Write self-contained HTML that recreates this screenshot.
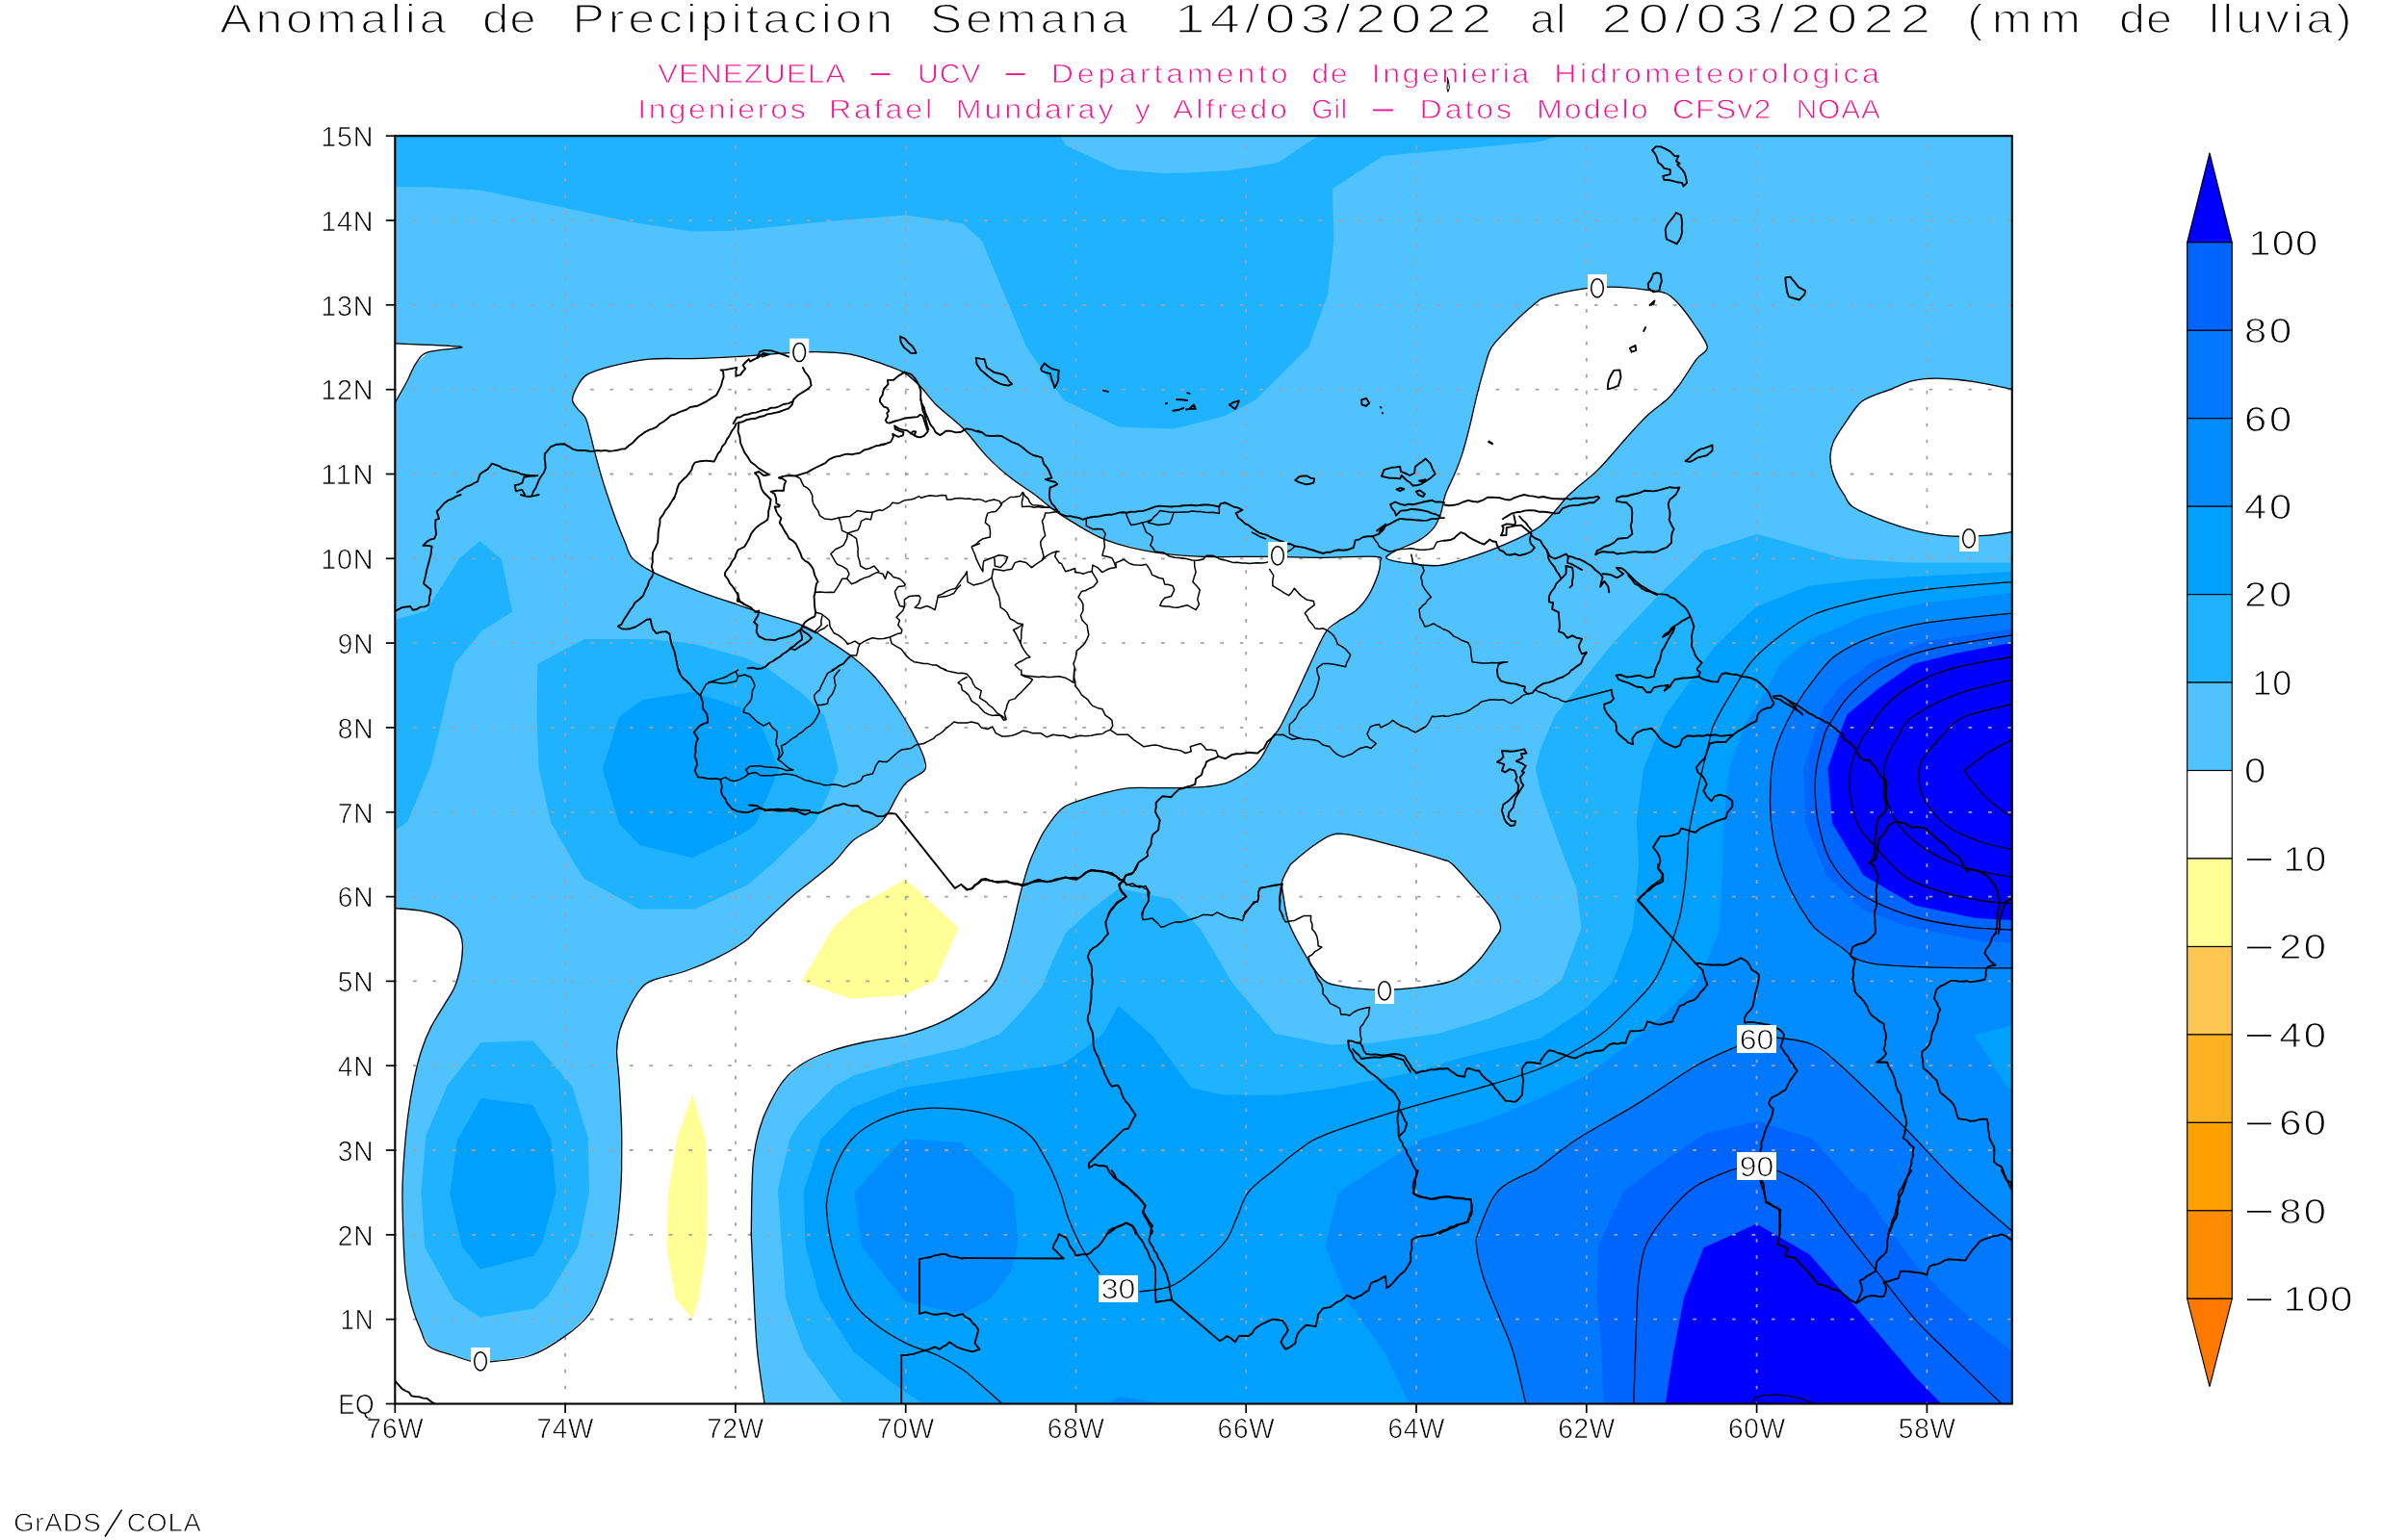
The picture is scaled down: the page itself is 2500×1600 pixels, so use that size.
<!DOCTYPE html>
<html><head><meta charset="utf-8"><title>Anomalia de Precipitacion</title>
<style>html,body{margin:0;padding:0;background:#fff}svg{display:block}text{font-family:"Liberation Sans",sans-serif;text-rendering:geometricPrecision}</style></head><body>
<svg width="2500" height="1600" viewBox="0 0 2500 1600">
<rect width="2500" height="1600" fill="#fff"/>
<defs><filter id="f" x="-5%" y="-20%" width="110%" height="140%"><feOffset dx="0" dy="0"/></filter><clipPath id="pc"><rect x="410.3" y="141.2" width="1679.5000000000002" height="1317.3"/></clipPath></defs>
<g clip-path="url(#pc)">
<rect x="410.3" y="141.2" width="1679.5000000000002" height="1317.3" fill="#50c3ff"/>
<path d="M410.3,356.9 L479.1,360.4 L444.9,365.7 L432.4,376.9 L422.4,396.8 L410.3,418.0Z" fill="#ffffff"/>
<path d="M410.3,943.6 L434.9,945.9 L457.4,951.6 L474.8,964.1 L480.3,980.3 L478.6,1002.7 L472.3,1025.2 L462.3,1042.6 L447.4,1067.6 L437.4,1092.5 L429.9,1122.4 L423.7,1159.8 L420.0,1197.3 L418.0,1234.7 L418.7,1278.3 L421.2,1323.2 L427.4,1355.7 L437.4,1383.1 L446.1,1399.3 L469.8,1408.0 L489.8,1414.3 L509.7,1414.8 L552.1,1408.0 L587.0,1388.1 L612.0,1365.6 L624.4,1340.7 L634.4,1310.8 L640.6,1278.3 L644.4,1240.9 L645.6,1216.0 L645.6,1209.7 L645.6,1172.3 L643.1,1122.4 L640.6,1092.5 L643.1,1072.6 L651.9,1050.1 L664.3,1028.9 L676.8,1018.9 L711.7,1009.0 L744.1,995.3 L774.1,977.8 L789.0,962.8 L823.9,930.4 L863.8,898.0 L886.3,873.1 L911.2,858.1 L922.4,844.4 L931.2,828.2 L941.1,813.3 L959.9,800.8 L960.6,790.8 L956.1,778.3 L946.1,758.4 L931.2,733.5 L908.7,703.5 L885.0,682.3 L861.3,666.1 L833.9,649.9 L789.0,636.2 L764.1,627.5 L724.2,613.8 L678.1,594.3 L656.9,580.1 L649.4,563.9 L639.4,538.9 L630.7,514.0 L624.4,494.1 L618.2,471.6 L613.2,451.7 L608.2,434.2 L599.5,424.3 L594.5,415.5 L599.5,401.8 L609.5,389.4 L634.4,380.6 L674.3,373.1 L719.2,372.6 L763.8,370.6 L823.9,366.4 L848.9,365.7 L883.8,368.2 L923.7,380.6 L940.6,388.1 L956.1,401.8 L973.6,421.8 L1000.0,444.7 L1024.9,474.1 L1049.9,496.6 L1074.8,514.0 L1093.5,529.0 L1112.2,541.4 L1149.6,561.4 L1199.5,573.9 L1249.4,578.3 L1319.2,578.3 L1374.1,579.3 L1428.9,578.3 L1433.4,583.8 L1431.4,596.3 L1421.4,618.7 L1409.0,633.7 L1389.0,646.2 L1376.6,657.4 L1359.1,693.6 L1344.1,726.0 L1329.2,755.9 L1321.7,765.9 L1309.2,788.3 L1296.8,800.8 L1274.3,813.3 L1249.4,817.7 L1212.0,818.7 L1174.6,818.7 L1149.6,823.2 L1117.2,833.2 L1102.2,840.7 L1084.8,863.1 L1074.8,883.1 L1068.6,898.0 L1059.9,927.9 L1049.9,970.3 L1039.9,1005.2 L1027.4,1027.7 L1000.0,1049.6 L973.6,1063.8 L938.7,1075.6 L898.8,1082.5 L861.3,1092.5 L833.9,1105.0 L814.0,1122.4 L799.0,1147.4 L789.0,1172.3 L782.8,1202.2 L781.0,1234.7 L780.3,1282.0 L780.3,1283.3 L782.8,1340.7 L786.5,1403.0 L794.0,1458.5 L410.3,1458.5Z" fill="#ffffff"/>
<path d="M1600.0,310.8 L1615.0,305.8 L1647.4,299.6 L1682.3,298.3 L1717.2,302.1 L1732.2,305.8 L1744.6,317.0 L1759.6,337.0 L1773.3,360.7 L1762.1,373.1 L1744.6,399.3 L1732.2,414.3 L1712.2,430.5 L1689.8,454.2 L1659.9,487.9 L1629.9,514.0 L1600.0,546.4 L1561.1,566.4 L1523.7,580.1 L1493.8,587.6 L1461.3,585.1 L1440.1,580.1 L1448.9,572.6 L1473.8,561.4 L1488.8,548.9 L1496.3,534.0 L1501.2,514.0 L1511.2,491.6 L1518.7,471.6 L1526.2,444.2 L1533.7,411.8 L1541.1,384.4 L1548.6,361.9 L1563.6,344.5 L1581.0,327.0Z" fill="#ffffff"/>
<path d="M2089.8,404.3 L2048.9,396.3 L2011.5,393.1 L1986.5,395.6 L1964.1,404.3 L1934.2,416.8 L1916.7,439.2 L1904.2,459.2 L1901.0,474.1 L1903.0,489.1 L1909.2,504.1 L1915.5,514.0 L1924.2,526.5 L1954.1,540.2 L1989.0,551.4 L2023.9,556.9 L2061.3,556.4 L2089.8,552.7Z" fill="#ffffff"/>
<path d="M1340.4,898.0 L1361.6,880.6 L1381.5,868.1 L1399.0,866.9 L1436.4,875.6 L1473.8,885.6 L1498.8,893.1 L1508.7,898.0 L1533.7,925.4 L1552.4,947.9 L1558.6,964.1 L1552.4,975.3 L1533.7,1000.2 L1508.7,1018.9 L1468.8,1026.4 L1423.9,1028.2 L1389.0,1023.9 L1374.1,1017.7 L1359.1,997.8 L1339.2,960.3 L1332.9,930.4 L1331.7,915.5Z" fill="#ffffff"/>
<path d="M940.6,913.5 L995.5,964.1 L971.1,1018.9 L938.7,1033.9 L883.8,1037.7 L832.7,1019.7 L865.1,964.1 L886.3,944.1Z" fill="#ffff96"/>
<path d="M719.2,1136.9 L732.9,1183.5 L734.9,1238.4 L733.7,1295.8 L725.4,1350.7 L719.2,1370.1 L701.7,1349.4 L692.3,1295.8 L694.3,1238.4 L703.0,1183.5Z" fill="#ffff96"/>
<path d="M410.3,141.2 L410.3,194.1 L444.9,194.3 L499.8,197.8 L587.0,216.0 L656.9,231.0 L719.2,240.5 L763.8,239.7 L848.9,231.0 L940.6,223.5 L1000.0,232.2 L1020.0,250.4 L1066.1,360.7 L1104.7,415.5 L1162.1,443.7 L1219.5,445.5 L1271.8,432.2 L1304.2,415.5 L1359.1,360.7 L1379.1,305.8 L1385.3,250.9 L1384.0,196.1 L1436.4,161.9 L1600.0,147.0 L1618.7,141.2 L1369.1,141.2 L1326.7,169.2 L1274.3,177.4 L1234.4,179.4 L1207.0,179.9 L1160.8,176.1 L1107.2,151.2 L1101.0,141.2Z" fill="#1eb2ff"/>
<path d="M410.3,643.7 L442.4,634.9 L477.3,580.1 L498.5,562.1 L520.9,581.3 L532.2,635.4 L499.8,656.1 L472.3,689.8 L459.9,743.4 L447.4,795.8 L423.7,853.2 L410.3,863.1Z" fill="#1eb2ff"/>
<path d="M558.4,689.8 L607.0,664.1 L671.8,664.1 L719.2,668.6 L774.1,683.6 L794.0,692.3 L833.9,721.0 L856.4,743.4 L863.8,770.9 L870.8,799.5 L858.9,828.2 L846.4,854.4 L801.5,898.0 L776.6,919.2 L721.7,944.6 L664.3,944.6 L607.0,913.0 L597.0,898.0 L572.1,854.4 L559.6,798.3 L557.6,743.4Z" fill="#1eb2ff"/>
<path d="M499.8,1083.0 L553.4,1081.3 L594.5,1128.7 L610.7,1182.3 L612.0,1238.4 L600.7,1294.6 L569.6,1345.7 L554.6,1359.4 L498.5,1368.6 L471.1,1349.4 L441.1,1295.8 L437.4,1238.4 L442.4,1179.8 L464.8,1127.4Z" fill="#1eb2ff"/>
<path d="M2089.8,584.6 L1979.7,584.6 L1913.1,580.0 L1846.6,560.7 L1824.4,555.1 L1769.6,572.6 L1729.7,611.3 L1674.8,668.6 L1615.0,743.4 L1600.0,778.3 L1594.8,798.3 L1600.0,822.0 L1610.0,850.7 L1627.4,898.0 L1637.4,922.9 L1642.4,964.1 L1622.4,1017.7 L1600.0,1034.7 L1548.6,1057.6 L1493.8,1073.8 L1423.9,1083.8 L1381.5,1085.5 L1324.2,1073.8 L1279.3,1020.2 L1246.9,965.3 L1217.0,934.2 L1162.1,922.9 L1134.7,944.1 L1107.2,969.1 L1093.5,997.8 L1082.3,1025.2 L1057.4,1055.1 L1038.7,1074.3 L1000.0,1088.8 L938.7,1102.5 L886.3,1117.5 L866.3,1128.7 L831.4,1164.8 L820.2,1183.5 L807.7,1237.2 L808.2,1240.9 L816.0,1349.4 L835.2,1403.0 L875.1,1458.5 L2089.8,1458.5Z" fill="#1eb2ff"/>
<path d="M625.7,799.5 L643.1,744.7 L666.8,727.2 L719.2,719.0 L771.6,735.9 L791.5,755.9 L809.0,799.5 L785.3,855.6 L774.1,864.4 L719.2,891.3 L664.3,878.1 L643.1,855.6Z" fill="#00a0ff"/>
<path d="M499.8,1141.1 L553.4,1148.1 L572.1,1183.5 L577.6,1238.4 L563.3,1290.8 L554.6,1304.5 L498.5,1318.7 L479.8,1294.6 L467.3,1240.9 L474.8,1184.8Z" fill="#00a0ff"/>
<path d="M2089.8,593.9 L1939.7,601.9 L1879.8,608.6 L1823.9,630.5 L1780.0,673.1 L1729.7,743.4 L1707.2,798.3 L1699.8,853.2 L1702.2,898.0 L1696.0,964.1 L1674.8,1020.2 L1647.4,1047.6 L1600.0,1078.8 L1523.7,1097.5 L1463.8,1115.0 L1381.5,1131.2 L1331.7,1137.4 L1269.3,1137.4 L1236.9,1129.9 L1197.0,1076.3 L1161.6,1045.1 L1145.9,1073.8 L1132.2,1085.0 L1104.7,1105.0 L1000.0,1120.7 L938.7,1129.9 L885.0,1151.1 L852.6,1183.5 L834.4,1238.4 L836.9,1294.6 L851.4,1349.4 L886.3,1404.3 L928.7,1437.9 L958.6,1458.5 L2089.8,1458.5Z" fill="#00a0ff"/>
<path d="M1000.0,1187.3 L938.7,1183.0 L887.5,1238.4 L895.0,1294.6 L939.9,1351.9 L1000.0,1365.6 L1029.9,1348.2 L1051.1,1318.2 L1057.4,1290.8 L1052.4,1238.4 L1000.0,1189.8Z" fill="#008cff"/>
<path d="M1152.1,1458.5 L1162.1,1450.4 L1197.0,1456.6 L1199.5,1458.5Z" fill="#008cff"/>
<path d="M2089.8,615.9 L1999.6,626.6 L1937.1,639.9 L1878.5,665.2 L1849.2,689.1 L1835.9,715.7 L1813.3,750.3 L1808.0,765.0 L1796.0,799.6 L1793.3,823.6 L1790.0,855.5 L1789.3,911.4 L1785.3,970.0 L1787.0,964.1 L1772.1,1000.2 L1759.6,1022.7 L1729.7,1052.6 L1694.8,1082.5 L1647.4,1117.5 L1600.0,1141.1 L1548.6,1162.3 L1473.8,1184.8 L1390.3,1238.4 L1376.6,1294.6 L1399.0,1350.7 L1437.7,1404.3 L1463.8,1458.5 L2089.8,1458.5Z" fill="#008cff"/>
<path d="M2050.2,1075.2 L2089.8,1065.2 L2089.8,1131.7 L2083.5,1128.4Z" fill="#00a0ff"/>
<path d="M2089.8,637.2 L1999.6,647.2 L1926.4,670.5 L1899.8,686.5 L1886.5,703.8 L1862.5,734.4 L1849.2,765.0 L1841.2,791.6 L1838.6,824.9 L1839.9,858.2 L1846.6,891.5 L1859.9,924.7 L1879.8,958.0 L1891.8,970.0 L1913.1,984.6 L1926.4,995.3 L1946.4,1001.3 L1979.7,1003.9 L2032.9,1005.7 L2089.8,1005.9Z" fill="#0078ff"/>
<path d="M1584.8,1458.5 L1571.1,1403.0 L1556.1,1365.6 L1541.1,1328.2 L1533.7,1295.8 L1536.2,1278.3 L1556.1,1237.2 L1593.5,1216.0 L1600.0,1211.7 L1639.9,1182.3 L1699.8,1147.4 L1762.1,1107.0 L1804.5,1087.0 L1845.6,1078.0 L1881.8,1085.0 L1911.7,1107.0 L1974.1,1167.3 L2023.9,1219.7 L2089.8,1279.5 L2089.8,1458.5Z" fill="#0078ff"/>
<path d="M2089.8,653.2 L1999.6,666.5 L1946.4,686.5 L1913.1,710.4 L1893.1,737.0 L1883.8,765.0 L1873.2,798.3 L1875.2,855.5 L1897.1,909.4 L1935.7,945.4 L1979.7,962.0 L2019.6,970.0 L2059.5,978.0 L2089.8,979.3Z" fill="#0064ff"/>
<path d="M1665.3,1458.5 L1663.6,1403.0 L1658.6,1348.2 L1659.9,1294.6 L1686.0,1238.4 L1714.7,1216.0 L1769.6,1178.5 L1824.4,1165.3 L1881.8,1182.3 L1931.7,1238.4 L1936.7,1238.4 L1974.1,1293.3 L1989.0,1313.3 L2023.9,1349.4 L2061.3,1381.8 L2089.8,1404.3 L2089.8,1458.5Z" fill="#0064ff"/>
<path d="M2089.8,667.8 L2032.9,678.5 L1987.7,689.8 L1950.4,715.7 L1918.4,742.4 L1909.8,765.0 L1898.5,798.3 L1903.1,855.5 L1935.7,909.4 L1989.0,940.7 L2052.9,954.0 L2089.8,956.0Z" fill="#0000ff"/>
<path d="M1729.7,1458.5 L1738.4,1403.0 L1749.1,1348.2 L1769.6,1296.3 L1824.4,1271.4 L1879.3,1303.3 L1931.7,1363.1 L1989.0,1430.5 L2016.5,1458.5Z" fill="#0000ff"/>
<g stroke="#a2a2a2" stroke-width="1.8" fill="none">
<path d="M408.5,229.0 H2089.8" stroke-dasharray="3.7 16.75"/>
<path d="M408.5,316.8 H2089.8" stroke-dasharray="3.7 16.75"/>
<path d="M408.5,404.7 H2089.8" stroke-dasharray="3.7 16.75"/>
<path d="M408.5,492.5 H2089.8" stroke-dasharray="3.7 16.75"/>
<path d="M408.5,580.3 H2089.8" stroke-dasharray="3.7 16.75"/>
<path d="M408.5,668.1 H2089.8" stroke-dasharray="3.7 16.75"/>
<path d="M408.5,755.9 H2089.8" stroke-dasharray="3.7 16.75"/>
<path d="M408.5,843.8 H2089.8" stroke-dasharray="3.7 16.75"/>
<path d="M408.5,931.6 H2089.8" stroke-dasharray="3.7 16.75"/>
<path d="M408.5,1019.4 H2089.8" stroke-dasharray="3.7 16.75"/>
<path d="M408.5,1107.2 H2089.8" stroke-dasharray="3.7 16.75"/>
<path d="M408.5,1195.0 H2089.8" stroke-dasharray="3.7 16.75"/>
<path d="M408.5,1282.9 H2089.8" stroke-dasharray="3.7 16.75"/>
<path d="M408.5,1370.7 H2089.8" stroke-dasharray="3.7 16.75"/>
<path d="M587.1,1460.3 V141.2" stroke-dasharray="3.6 13.35"/>
<path d="M763.9,1460.3 V141.2" stroke-dasharray="3.6 13.35"/>
<path d="M940.7,1460.3 V141.2" stroke-dasharray="3.6 13.35"/>
<path d="M1117.5,1460.3 V141.2" stroke-dasharray="3.6 13.35"/>
<path d="M1294.2,1460.3 V141.2" stroke-dasharray="3.6 13.35"/>
<path d="M1471.0,1460.3 V141.2" stroke-dasharray="3.6 13.35"/>
<path d="M1647.8,1460.3 V141.2" stroke-dasharray="3.6 13.35"/>
<path d="M1824.6,1460.3 V141.2" stroke-dasharray="3.6 13.35"/>
<path d="M2001.4,1460.3 V141.2" stroke-dasharray="3.6 13.35"/>
</g>
<g stroke="#000" stroke-width="1.3" fill="none" stroke-linejoin="round">
<path d="M410.5,356.9 C421.9,357.5 473.4,358.9 479.1,360.4 C484.8,361.9 452.7,362.9 444.9,365.7 C437.1,368.4 436.1,371.7 432.4,376.9 C428.6,382.1 426.0,389.9 422.4,396.8 C418.8,403.7 412.5,414.5 410.5,418.0"/>
<path d="M410.5,943.6 C414.6,944.0 427.1,944.6 434.9,945.9 C442.7,947.2 450.8,948.6 457.4,951.6 C464.0,954.6 471.0,959.3 474.8,964.1 C478.6,968.9 479.7,973.9 480.3,980.3 C480.9,986.7 479.9,995.2 478.6,1002.7 C477.3,1010.2 475.0,1018.6 472.3,1025.2 C469.6,1031.8 466.5,1035.5 462.3,1042.6 C458.1,1049.7 451.5,1059.3 447.4,1067.6 C443.2,1075.9 440.3,1083.4 437.4,1092.5 C434.5,1101.6 432.2,1111.2 429.9,1122.4 C427.6,1133.6 425.3,1147.3 423.7,1159.8 C422.1,1172.3 420.9,1184.8 420.0,1197.3 C419.1,1209.8 418.2,1221.2 418.0,1234.7 C417.8,1248.2 418.2,1263.5 418.7,1278.3 C419.2,1293.0 419.8,1310.3 421.2,1323.2 C422.6,1336.1 424.7,1345.7 427.4,1355.7 C430.1,1365.7 434.3,1375.8 437.4,1383.1 C440.5,1390.4 440.7,1395.1 446.1,1399.3 C451.5,1403.5 462.5,1405.5 469.8,1408.0 C477.1,1410.5 483.2,1413.2 489.8,1414.3 C496.4,1415.4 499.3,1415.8 509.7,1414.8 C520.1,1413.8 539.2,1412.5 552.1,1408.0 C565.0,1403.5 577.0,1395.2 587.0,1388.1 C597.0,1381.0 605.8,1373.5 612.0,1365.6 C618.2,1357.7 620.7,1349.8 624.4,1340.7 C628.1,1331.6 631.7,1321.2 634.4,1310.8 C637.1,1300.4 638.9,1289.9 640.6,1278.3 C642.3,1266.7 643.6,1251.3 644.4,1240.9 C645.2,1230.5 645.4,1221.2 645.6,1216.0 C645.8,1210.8 645.6,1217.0 645.6,1209.7 C645.6,1202.4 646.0,1186.8 645.6,1172.3 C645.2,1157.8 643.9,1135.7 643.1,1122.4 C642.3,1109.1 640.6,1100.8 640.6,1092.5 C640.6,1084.2 641.2,1079.7 643.1,1072.6 C645.0,1065.5 648.4,1057.4 651.9,1050.1 C655.4,1042.8 660.1,1034.1 664.3,1028.9 C668.4,1023.7 668.9,1022.2 676.8,1018.9 C684.7,1015.6 700.5,1012.9 711.7,1009.0 C722.9,1005.1 733.7,1000.5 744.1,995.3 C754.5,990.1 766.6,983.2 774.1,977.8 C781.6,972.4 780.7,970.7 789.0,962.8 C797.3,954.9 811.4,941.2 823.9,930.4 C836.4,919.6 853.4,907.5 863.8,898.0 C874.2,888.5 878.4,879.8 886.3,873.1 C894.2,866.5 905.2,862.9 911.2,858.1 C917.2,853.3 919.1,849.4 922.4,844.4 C925.7,839.4 928.1,833.4 931.2,828.2 C934.3,823.0 936.3,817.9 941.1,813.3 C945.9,808.7 956.6,804.5 959.9,800.8 C963.1,797.0 961.2,794.5 960.6,790.8 C960.0,787.0 958.5,783.7 956.1,778.3 C953.7,772.9 950.2,765.9 946.1,758.4 C942.0,750.9 937.4,742.6 931.2,733.5 C925.0,724.4 916.4,712.0 908.7,703.5 C901.0,695.0 892.9,688.5 885.0,682.3 C877.1,676.1 869.8,671.5 861.3,666.1 C852.8,660.7 845.9,654.9 833.9,649.9 C821.9,644.9 800.6,639.9 789.0,636.2 C777.4,632.5 774.9,631.2 764.1,627.5 C753.3,623.8 738.5,619.3 724.2,613.8 C709.9,608.3 689.3,599.9 678.1,594.3 C666.9,588.7 661.7,585.2 656.9,580.1 C652.1,575.0 652.3,570.8 649.4,563.9 C646.5,557.0 642.5,547.2 639.4,538.9 C636.3,530.6 633.2,521.5 630.7,514.0 C628.2,506.5 626.5,501.2 624.4,494.1 C622.3,487.0 620.1,478.7 618.2,471.6 C616.3,464.5 614.9,457.9 613.2,451.7 C611.5,445.5 610.5,438.8 608.2,434.2 C605.9,429.6 601.8,427.4 599.5,424.3 C597.2,421.2 594.5,419.2 594.5,415.5 C594.5,411.8 597.0,406.2 599.5,401.8 C602.0,397.4 603.7,392.9 609.5,389.4 C615.3,385.9 623.6,383.3 634.4,380.6 C645.2,377.9 660.2,374.4 674.3,373.1 C688.4,371.8 704.3,373.0 719.2,372.6 C734.1,372.2 746.3,371.6 763.8,370.6 C781.2,369.6 809.7,367.2 823.9,366.4 C838.1,365.6 838.9,365.4 848.9,365.7 C858.9,366.0 871.3,365.7 883.8,368.2 C896.3,370.7 914.2,377.3 923.7,380.6 C933.2,383.9 935.2,384.6 940.6,388.1 C946.0,391.6 950.6,396.2 956.1,401.8 C961.6,407.4 966.3,414.7 973.6,421.8 C980.9,428.9 991.5,436.0 1000.0,444.7 C1008.5,453.4 1016.6,465.5 1024.9,474.1 C1033.2,482.8 1041.6,490.0 1049.9,496.6 C1058.2,503.2 1067.5,508.6 1074.8,514.0 C1082.1,519.4 1087.3,524.4 1093.5,529.0 C1099.7,533.6 1102.9,536.0 1112.2,541.4 C1121.5,546.8 1135.0,556.0 1149.6,561.4 C1164.1,566.8 1182.9,571.1 1199.5,573.9 C1216.1,576.7 1229.5,577.6 1249.4,578.3 C1269.4,579.0 1298.4,578.1 1319.2,578.3 C1340.0,578.5 1355.8,579.3 1374.1,579.3 C1392.4,579.3 1419.0,577.5 1428.9,578.3 C1438.8,579.0 1433.0,580.8 1433.4,583.8 C1433.8,586.8 1433.4,590.5 1431.4,596.3 C1429.4,602.1 1425.1,612.5 1421.4,618.7 C1417.7,624.9 1414.4,629.1 1409.0,633.7 C1403.6,638.3 1394.4,642.2 1389.0,646.2 C1383.6,650.2 1381.6,649.5 1376.6,657.4 C1371.6,665.3 1364.5,682.2 1359.1,693.6 C1353.7,705.0 1349.1,715.6 1344.1,726.0 C1339.1,736.4 1332.9,749.2 1329.2,755.9 C1325.5,762.5 1325.0,760.5 1321.7,765.9 C1318.4,771.3 1313.4,782.5 1309.2,788.3 C1305.0,794.1 1302.6,796.6 1296.8,800.8 C1291.0,805.0 1282.2,810.5 1274.3,813.3 C1266.4,816.1 1259.8,816.8 1249.4,817.7 C1239.0,818.6 1224.5,818.5 1212.0,818.7 C1199.5,818.9 1185.0,818.0 1174.6,818.7 C1164.2,819.5 1159.2,820.8 1149.6,823.2 C1140.0,825.6 1125.1,830.3 1117.2,833.2 C1109.3,836.1 1107.6,835.7 1102.2,840.7 C1096.8,845.7 1089.4,856.0 1084.8,863.1 C1080.2,870.2 1077.5,877.3 1074.8,883.1 C1072.1,888.9 1071.1,890.5 1068.6,898.0 C1066.1,905.5 1063.0,915.9 1059.9,927.9 C1056.8,939.9 1053.2,957.4 1049.9,970.3 C1046.6,983.2 1043.7,995.6 1039.9,1005.2 C1036.2,1014.8 1034.1,1020.3 1027.4,1027.7 C1020.8,1035.1 1009.0,1043.6 1000.0,1049.6 C991.0,1055.6 983.8,1059.5 973.6,1063.8 C963.4,1068.1 951.2,1072.5 938.7,1075.6 C926.2,1078.7 911.7,1079.7 898.8,1082.5 C885.9,1085.3 872.1,1088.8 861.3,1092.5 C850.5,1096.2 841.8,1100.0 833.9,1105.0 C826.0,1110.0 819.8,1115.3 814.0,1122.4 C808.2,1129.5 803.2,1139.1 799.0,1147.4 C794.8,1155.7 791.7,1163.2 789.0,1172.3 C786.3,1181.4 784.1,1191.8 782.8,1202.2 C781.5,1212.6 781.4,1221.4 781.0,1234.7 C780.6,1248.0 780.4,1273.9 780.3,1282.0 C780.2,1290.1 779.9,1273.5 780.3,1283.3 C780.7,1293.1 781.8,1320.8 782.8,1340.7 C783.8,1360.7 784.6,1383.4 786.5,1403.0 C788.4,1422.6 792.8,1449.2 794.0,1458.4"/>
<path d="M1600.0,310.8 C1602.5,310.0 1607.1,307.7 1615.0,305.8 C1622.9,303.9 1636.2,300.9 1647.4,299.6 C1658.6,298.4 1670.7,297.9 1682.3,298.3 C1693.9,298.7 1708.9,300.9 1717.2,302.1 C1725.5,303.4 1727.6,303.3 1732.2,305.8 C1736.8,308.3 1740.0,311.8 1744.6,317.0 C1749.2,322.2 1754.8,329.7 1759.6,337.0 C1764.4,344.3 1772.9,354.7 1773.3,360.7 C1773.7,366.7 1766.9,366.7 1762.1,373.1 C1757.3,379.5 1749.6,392.4 1744.6,399.3 C1739.6,406.2 1737.6,409.1 1732.2,414.3 C1726.8,419.5 1719.3,423.9 1712.2,430.5 C1705.1,437.1 1698.5,444.6 1689.8,454.2 C1681.1,463.8 1669.9,477.9 1659.9,487.9 C1649.9,497.9 1639.9,504.2 1629.9,514.0 C1619.9,523.8 1611.5,537.7 1600.0,546.4 C1588.5,555.1 1573.8,560.8 1561.1,566.4 C1548.4,572.0 1534.9,576.6 1523.7,580.1 C1512.5,583.6 1504.2,586.8 1493.8,587.6 C1483.4,588.4 1470.2,586.4 1461.3,585.1 C1452.3,583.9 1442.2,582.2 1440.1,580.1 C1438.0,578.0 1443.3,575.7 1448.9,572.6 C1454.5,569.5 1467.2,565.4 1473.8,561.4 C1480.4,557.4 1485.0,553.5 1488.8,548.9 C1492.5,544.3 1494.2,539.8 1496.3,534.0 C1498.4,528.2 1498.7,521.1 1501.2,514.0 C1503.7,506.9 1508.3,498.7 1511.2,491.6 C1514.1,484.5 1516.2,479.5 1518.7,471.6 C1521.2,463.7 1523.7,454.2 1526.2,444.2 C1528.7,434.2 1531.2,421.8 1533.7,411.8 C1536.2,401.8 1538.6,392.7 1541.1,384.4 C1543.6,376.1 1544.8,368.5 1548.6,361.9 C1552.3,355.2 1558.2,350.3 1563.6,344.5 C1569.0,338.7 1574.9,332.6 1581.0,327.0 C1587.1,321.4 1596.8,313.5 1600.0,310.8"/>
<path d="M2090.0,404.3 C2083.2,403.0 2062.0,398.2 2048.9,396.3 C2035.8,394.4 2021.9,393.2 2011.5,393.1 C2001.1,393.0 1994.4,393.7 1986.5,395.6 C1978.6,397.5 1972.8,400.8 1964.1,404.3 C1955.4,407.8 1942.1,411.0 1934.2,416.8 C1926.3,422.6 1921.7,432.1 1916.7,439.2 C1911.7,446.3 1906.8,453.4 1904.2,459.2 C1901.6,465.0 1901.2,469.1 1901.0,474.1 C1900.8,479.1 1901.6,484.1 1903.0,489.1 C1904.4,494.1 1907.1,500.0 1909.2,504.1 C1911.3,508.2 1913.0,510.3 1915.5,514.0 C1918.0,517.7 1917.8,522.1 1924.2,526.5 C1930.6,530.9 1943.3,536.1 1954.1,540.2 C1964.9,544.4 1977.4,548.6 1989.0,551.4 C2000.6,554.2 2011.9,556.1 2023.9,556.9 C2036.0,557.7 2050.3,557.1 2061.3,556.4 C2072.3,555.7 2085.2,553.3 2090.0,552.7"/>
<path d="M1340.4,898.0 C1343.9,895.1 1354.8,885.6 1361.6,880.6 C1368.4,875.6 1375.3,870.4 1381.5,868.1 C1387.7,865.8 1389.8,865.6 1399.0,866.9 C1408.2,868.1 1423.9,872.5 1436.4,875.6 C1448.9,878.7 1463.4,882.7 1473.8,885.6 C1484.2,888.5 1493.0,891.0 1498.8,893.1 C1504.6,895.2 1502.9,892.6 1508.7,898.0 C1514.5,903.4 1526.4,917.1 1533.7,925.4 C1541.0,933.7 1548.2,941.4 1552.4,947.9 C1556.6,954.4 1558.6,959.5 1558.6,964.1 C1558.6,968.7 1556.6,969.3 1552.4,975.3 C1548.2,981.3 1541.0,992.9 1533.7,1000.2 C1526.4,1007.5 1519.5,1014.5 1508.7,1018.9 C1497.9,1023.3 1482.9,1024.9 1468.8,1026.4 C1454.7,1028.0 1437.2,1028.6 1423.9,1028.2 C1410.6,1027.8 1397.3,1025.7 1389.0,1023.9 C1380.7,1022.1 1379.1,1022.1 1374.1,1017.7 C1369.1,1013.4 1364.9,1007.4 1359.1,997.8 C1353.3,988.2 1343.6,971.5 1339.2,960.3 C1334.8,949.1 1334.2,937.9 1332.9,930.4 C1331.7,922.9 1330.5,920.9 1331.7,915.5 C1333.0,910.1 1339.0,900.9 1340.4,898.0"/>
<path d="M2089.5,604.6 C2074.5,605.9 2024.6,609.6 1999.6,612.6 C1974.6,615.6 1959.0,618.3 1939.7,622.6 C1920.4,626.9 1899.3,631.9 1883.8,638.5 C1868.3,645.1 1857.2,654.5 1846.6,662.5 C1835.9,670.5 1827.7,677.4 1819.9,686.5 C1812.1,695.6 1806.7,706.0 1800.0,717.1 C1793.3,728.2 1784.2,743.6 1780.0,753.0 C1775.8,762.4 1777.6,761.3 1774.6,773.4 C1771.6,785.5 1765.4,810.8 1762.1,825.7 C1758.8,840.7 1756.3,851.1 1754.6,863.1 C1752.9,875.1 1752.9,888.0 1752.1,898.0 C1751.3,908.0 1750.8,913.8 1749.6,922.9 C1748.3,932.0 1747.1,942.9 1744.6,952.9 C1742.1,962.9 1739.3,971.6 1734.7,982.8 C1730.1,994.0 1725.1,1008.6 1717.2,1020.2 C1709.3,1031.8 1696.5,1043.4 1687.3,1052.6 C1678.1,1061.8 1671.9,1068.0 1662.3,1075.1 C1652.7,1082.2 1640.3,1089.2 1629.9,1095.0 C1619.5,1100.8 1613.5,1104.7 1600.0,1110.0 C1586.5,1115.3 1573.8,1119.4 1548.6,1126.9 C1523.4,1134.4 1478.0,1146.1 1448.9,1154.9 C1419.8,1163.7 1390.7,1173.2 1374.1,1179.8 C1357.5,1186.4 1357.4,1189.0 1349.1,1194.8 C1340.8,1200.6 1332.9,1207.4 1324.2,1214.7 C1315.5,1222.0 1303.5,1229.9 1296.8,1238.4 C1290.1,1246.9 1288.5,1257.2 1284.3,1265.9 C1280.1,1274.6 1279.3,1281.7 1271.8,1290.8 C1264.3,1299.9 1249.0,1313.0 1239.4,1320.7 C1229.9,1328.4 1223.8,1333.4 1214.5,1336.9 C1205.2,1340.4 1188.5,1341.1 1183.3,1341.9"/>
<path d="M1142.1,1323.2 C1139.2,1319.0 1130.1,1307.8 1124.7,1298.3 C1119.3,1288.8 1113.5,1275.5 1109.7,1265.9 C1106.0,1256.3 1105.1,1249.2 1102.2,1240.9 C1099.3,1232.6 1095.2,1222.5 1092.3,1216.0 C1089.4,1209.5 1088.1,1207.8 1084.8,1202.2 C1081.5,1196.6 1077.7,1188.1 1072.3,1182.3 C1066.9,1176.5 1060.3,1171.4 1052.4,1167.3 C1044.5,1163.2 1033.6,1159.8 1024.9,1157.4 C1016.2,1155.0 1009.4,1154.0 1000.0,1152.9 C990.6,1151.9 978.8,1150.8 968.6,1151.1 C958.4,1151.4 949.1,1152.2 938.7,1154.9 C928.3,1157.6 915.4,1162.3 906.2,1167.3 C897.1,1172.3 890.0,1177.7 883.8,1184.8 C877.6,1191.9 872.8,1200.6 868.8,1209.7 C864.8,1218.8 861.8,1230.9 860.1,1239.6 C858.5,1248.3 857.9,1251.5 858.9,1262.1 C859.9,1272.7 862.1,1288.8 866.3,1303.3 C870.4,1317.8 876.7,1337.4 883.8,1349.4 C890.9,1361.5 899.2,1367.9 908.7,1375.6 C918.2,1383.3 930.3,1390.2 941.1,1395.6 C951.9,1401.0 963.8,1403.4 973.6,1408.0 C983.4,1412.6 993.1,1418.4 1000.0,1423.0 C1006.9,1427.6 1008.1,1429.6 1015.0,1435.5 C1021.9,1441.4 1036.8,1454.6 1041.1,1458.4"/>
<path d="M2089.5,637.2 C2074.5,638.9 2023.4,643.2 1999.6,647.2 C1975.8,651.2 1961.9,655.6 1946.4,661.2 C1930.9,666.9 1916.9,673.6 1906.5,681.1 C1896.1,688.6 1890.7,697.8 1883.8,706.4 C1876.9,715.0 1871.0,723.2 1865.2,733.0 C1859.4,742.8 1853.2,755.2 1849.2,765.0 C1845.2,774.8 1843.0,781.6 1841.2,791.6 C1839.4,801.6 1838.8,813.8 1838.6,824.9 C1838.4,836.0 1838.6,847.1 1839.9,858.2 C1841.2,869.3 1843.3,880.4 1846.6,891.5 C1849.9,902.6 1854.4,913.6 1859.9,924.7 C1865.4,935.8 1874.5,950.5 1879.8,958.0 C1885.1,965.5 1886.2,965.6 1891.8,970.0 C1897.3,974.4 1907.3,980.4 1913.1,984.6 C1918.9,988.8 1920.9,992.5 1926.4,995.3 C1932.0,998.1 1937.5,999.9 1946.4,1001.3 C1955.3,1002.7 1965.3,1003.2 1979.7,1003.9 C1994.1,1004.6 2014.6,1005.4 2032.9,1005.7 C2051.2,1006.0 2080.1,1005.9 2089.5,1005.9"/>
<path d="M1584.8,1458.4 C1582.5,1449.2 1575.9,1418.5 1571.1,1403.0 C1566.3,1387.5 1561.1,1378.1 1556.1,1365.6 C1551.1,1353.1 1544.8,1339.8 1541.1,1328.2 C1537.4,1316.6 1534.5,1304.1 1533.7,1295.8 C1532.9,1287.5 1532.5,1288.1 1536.2,1278.3 C1539.9,1268.5 1546.5,1247.6 1556.1,1237.2 C1565.6,1226.8 1586.2,1220.2 1593.5,1216.0 C1600.8,1211.8 1592.3,1217.3 1600.0,1211.7 C1607.7,1206.1 1623.3,1193.0 1639.9,1182.3 C1656.5,1171.6 1679.4,1160.0 1699.8,1147.4 C1720.2,1134.9 1744.6,1117.1 1762.1,1107.0 C1779.5,1096.9 1797.4,1090.3 1804.5,1087.0"/>
<path d="M1845.6,1078.0 C1851.6,1079.2 1870.8,1080.2 1881.8,1085.0 C1892.8,1089.8 1896.3,1093.3 1911.7,1107.0 C1927.1,1120.7 1955.4,1148.5 1974.1,1167.3 C1992.8,1186.1 2011.4,1207.0 2023.9,1219.7 C2036.4,1232.4 2038.1,1233.6 2048.9,1243.4 C2059.7,1253.2 2082.2,1272.5 2088.8,1278.3"/>
<path d="M2089.5,659.8 C2074.5,662.5 2022.3,669.8 1999.6,675.8 C1976.8,681.8 1966.3,687.8 1953.0,695.8 C1939.7,703.8 1928.7,714.2 1919.8,723.7 C1910.9,733.2 1904.0,746.1 1899.8,753.0 C1895.6,759.9 1896.7,757.5 1894.5,765.0 C1892.3,772.5 1888.0,788.3 1886.5,798.3 C1885.0,808.3 1884.8,814.9 1885.2,824.9 C1885.7,834.9 1886.8,847.1 1889.2,858.2 C1891.6,869.3 1894.7,881.5 1899.8,891.5 C1904.9,901.5 1912.0,910.6 1919.8,918.1 C1927.6,925.6 1934.2,930.7 1946.4,936.7 C1958.6,942.7 1976.4,949.6 1993.0,954.0 C2009.6,958.4 2030.1,961.3 2046.2,963.3 C2062.3,965.3 2082.3,965.5 2089.5,966.0"/>
<path d="M1696.8,1458.4 C1697.3,1443.8 1698.9,1392.3 1699.8,1370.6 C1700.7,1348.9 1700.5,1341.1 1702.2,1328.2 C1703.9,1315.3 1705.1,1304.1 1709.7,1293.3 C1714.3,1282.5 1721.4,1273.4 1729.7,1263.4 C1738.0,1253.4 1748.8,1241.2 1759.6,1233.5 C1770.4,1225.8 1787.0,1220.4 1794.5,1217.2 C1802.0,1214.0 1802.8,1214.7 1804.5,1214.2"/>
<path d="M1845.6,1216.0 C1851.6,1219.3 1870.8,1226.3 1881.8,1235.9 C1892.8,1245.5 1900.5,1259.3 1911.7,1273.4 C1922.9,1287.5 1936.2,1304.5 1949.1,1320.7 C1962.0,1336.9 1976.5,1356.5 1989.0,1370.6 C2001.5,1384.7 2008.9,1390.9 2023.9,1405.5 C2038.9,1420.1 2069.7,1449.6 2078.8,1458.4"/>
<path d="M2089.5,682.5 C2080.1,684.3 2049.0,688.9 2032.9,693.1 C2016.8,697.3 2005.2,701.4 1993.0,707.8 C1980.8,714.2 1968.6,723.1 1959.7,731.7 C1950.8,740.4 1943.7,754.2 1939.7,759.7 C1935.7,765.2 1938.4,759.7 1935.7,765.0 C1933.0,770.3 1926.2,782.7 1923.8,791.6 C1921.4,800.5 1920.2,807.6 1921.1,818.2 C1922.0,828.9 1924.9,845.5 1929.1,855.5 C1933.3,865.5 1938.0,868.8 1946.4,878.1 C1954.8,887.4 1967.5,903.2 1979.7,911.4 C1991.9,919.6 2006.3,923.3 2019.6,927.4 C2032.9,931.5 2047.8,934.1 2059.5,936.0 C2071.2,937.9 2084.5,938.2 2089.5,938.7"/>
<path d="M1820.7,1458.4 C1821.3,1457.3 1820.5,1453.2 1824.4,1451.7 C1828.4,1450.2 1836.9,1449.0 1844.4,1449.2 C1851.9,1449.4 1862.9,1451.4 1869.3,1452.9 C1875.7,1454.4 1880.7,1457.5 1883.0,1458.4"/>
<path d="M2089.5,706.4 C2080.1,708.9 2050.1,714.7 2032.9,721.1 C2015.7,727.5 1996.5,737.7 1986.3,745.0 C1976.1,752.3 1976.3,757.2 1971.7,765.0 C1967.1,772.8 1960.6,781.6 1958.4,791.6 C1956.2,801.6 1956.0,813.8 1958.4,824.9 C1960.8,836.0 1966.1,848.7 1973.0,858.2 C1979.9,867.7 1988.5,875.0 1999.6,882.1 C2010.7,889.2 2024.6,895.9 2039.6,900.8 C2054.6,905.7 2081.2,909.6 2089.5,911.4"/>
<path d="M2089.5,731.7 C2081.2,733.9 2051.7,739.5 2039.6,745.0 C2027.5,750.5 2024.2,757.2 2016.9,765.0 C2009.6,772.8 1999.4,782.7 1995.6,791.6 C1991.8,800.5 1992.5,809.8 1994.3,818.2 C1996.1,826.6 2001.0,835.1 2006.3,842.2 C2011.6,849.3 2017.4,855.2 2026.3,860.8 C2035.2,866.3 2049.0,872.0 2059.5,875.5 C2070.0,879.0 2084.5,881.0 2089.5,882.1"/>
<path d="M2089.5,768.3 C2085.2,770.8 2071.7,777.6 2063.5,783.0 C2055.3,788.4 2044.1,797.8 2040.2,800.7"/>
<path d="M2040.2,800.7 C2043.2,804.5 2052.8,817.6 2058.2,823.6 C2063.6,829.6 2067.6,832.7 2072.8,836.9 C2078.0,841.1 2086.7,846.9 2089.5,848.9"/>
</g>
<g stroke="#000" stroke-width="1.9" fill="none" stroke-linejoin="round" stroke-linecap="round">
<path d="M474.8,511.5 L479.9,508.5 L484.8,505.3 L488.8,504.2 L492.3,502.0 L496.0,500.3 L498.5,492.8 L502.1,490.1 L506.0,487.9 L508.6,484.8 L511.0,481.6 L514.8,482.9 L518.6,484.3 L522.0,486.7 L525.9,487.7 L529.7,489.1 L533.9,489.9 L538.1,491.0 L542.1,492.8 L546.1,493.5 L550.2,493.9 L554.3,494.5 L558.4,494.1 L554.0,494.3 L549.6,494.8 L544.1,495.8 L542.6,501.6 L538.8,503.4 L534.7,504.1 L535.9,510.3 L542.1,508.6 L545.1,514.0"/>
<path d="M552.6,514.0 L554.2,510.2 L556.6,506.8 L558.1,502.9 L559.6,499.1 L562.0,495.0 L564.8,491.0 L566.6,486.6 L566.4,481.6 L565.7,476.6 L565.8,471.6 L569.0,467.9 L572.1,464.2 L578.3,461.7 L585.8,461.2 L592.0,464.7 L595.5,466.9 L599.5,467.9 L603.7,468.0 L607.9,468.0 L612.0,468.7 L616.2,468.9 L620.3,468.0 L624.4,468.5 L628.6,467.9 L632.8,468.8 L636.9,468.4 L641.1,467.8 L645.2,466.6 L649.4,466.2 L653.0,463.0 L656.9,460.4 L660.4,456.5 L664.3,452.9 L669.1,449.4 L674.3,446.7 L678.1,445.3 L681.8,443.7 L685.2,440.4 L689.3,438.0 L693.1,435.0 L696.8,431.7 L701.1,430.5 L705.0,428.4 L709.2,426.8 L713.2,425.5 L716.7,423.0 L724.2,421.8 L729.3,419.4 L734.2,416.8 L739.1,413.6 L744.1,410.5 L746.6,405.6 L749.1,400.6 L750.1,396.1 L751.6,391.8 L751.1,385.6 L748.6,384.4 L753.9,384.1 L759.1,383.1 L765.3,381.9 L764.3,386.2 L764.6,390.6 L769.1,389.4 L771.4,386.1 L774.1,383.1 L771.6,379.4 L774.6,376.2 L777.8,373.1 L779.1,375.6 L782.7,373.6 L786.5,371.9 L789.0,365.7 L794.0,363.9 L801.5,364.4 L809.0,366.9 L814.0,368.6 L819.0,370.6"/>
<path d="M786.5,371.9 L789.9,369.7 L792.8,366.9 L799.0,368.2 L791.5,370.6"/>
<path d="M833.9,381.9 L836.0,386.3 L839.1,390.0 L841.4,394.3 L842.6,400.6 L838.9,404.3 L833.9,407.4 L828.9,410.5 L823.9,415.5 L822.7,420.5 L819.0,424.3 L814.0,426.1 L809.0,428.0 L805.0,428.9 L801.0,429.8 L796.9,430.4 L793.1,432.3 L789.0,433.0 L784.7,434.8 L780.0,435.2 L775.4,436.2 L771.2,438.3 L766.6,439.2"/>
<path d="M823.9,416.8 L819.1,419.1 L813.8,420.0 L809.0,422.3 L805.1,423.6 L800.8,423.7 L797.1,425.7 L792.9,426.0 L789.0,427.3 L785.1,428.6 L781.0,429.1 L777.1,430.5 L773.0,431.0 L769.4,433.3 L765.3,433.7 L761.6,440.0"/>
<path d="M934.9,349.5 L939.9,351.9 L943.3,356.0 L947.4,359.4 L949.8,363.0 L951.6,366.9 L946.1,366.9 L942.4,363.8 L938.7,360.7 L935.7,355.7 L934.9,349.5"/>
<path d="M939.5,386.6 L946.4,388.9 L950.4,393.2 L954.4,399.9 L956.4,406.5 L956.2,410.9 L956.4,415.2 L957.5,419.4 L959.7,423.2 L960.9,428.3 L963.1,433.1 L964.7,437.1 L966.4,441.1 L969.5,444.8 L971.7,449.1 L976.4,452.1 L979.0,450.4 L982.3,447.8 L987.7,447.8 L993.0,449.4 L998.3,448.8 L1003.6,445.4 L1009.6,446.4 L1014.7,448.3 L1020.0,449.1"/>
<path d="M939.5,386.6 L933.1,390.6 L927.8,394.9 L921.8,394.9 L922.5,399.2 L917.8,404.5 L916.5,410.5 L914.2,413.9 L913.9,417.2 L917.8,422.5 L921.8,423.8 L923.2,427.2 L921.2,429.1 L922.2,432.5 L919.8,436.5 L921.2,439.1 L923.8,439.5 L929.8,437.5 L934.9,436.2 L939.8,434.5 L946.4,433.8 L953.1,433.1 L955.7,430.8 L958.4,432.1 L960.4,438.5 L962.4,444.4 L963.7,448.4 L959.7,452.8 L955.7,454.4 L952.4,453.8 L946.4,450.4 L941.8,447.1 L938.5,446.8 L933.1,445.1 L929.1,442.4 L929.8,445.8 L934.5,447.8 L938.5,449.1 L937.8,452.4 L933.1,453.8 L929.8,452.4 L927.2,450.8 L927.8,453.8 L925.2,459.1 L919.8,461.1 L914.5,462.0"/>
<path d="M945.8,450.4 L948.4,448.1 L951.1,448.4 L949.8,452.4"/>
<path d="M956.4,415.2 L957.5,420.8 L958.4,426.5 L960.6,431.3 L961.7,436.5 L962.9,441.5 L964.4,446.4"/>
<path d="M410.5,634.9 L417.5,631.2 L421.8,630.5 L426.2,630.0 L428.7,633.7 L432.9,633.0 L436.6,630.6 L441.0,630.4 L444.9,628.7 L445.9,624.7 L445.9,620.6 L447.2,616.6 L447.4,612.5 L443.7,609.4 L439.9,606.3 L441.3,601.3 L442.4,596.3 L443.4,591.2 L444.9,586.3 L446.1,581.3 L447.4,576.8 L447.9,572.2 L448.6,567.6 L444.0,566.9 L439.4,566.9 L443.6,562.6 L447.1,560.5 L451.1,559.6 L453.1,555.1 L452.5,550.1 L452.2,545.2 L452.4,540.2 L456.1,538.9 L453.6,531.5 L457.3,527.7 L460.7,523.6 L464.8,520.2 L469.5,518.4 L473.8,515.7 L478.6,514.0"/>
<path d="M540.9,514.0 L545.2,515.4 L549.6,516.0 L554.6,515.1 L559.6,514.0"/>
<path d="M1013.7,371.9 L1018.0,372.6 L1022.4,373.1 L1023.7,377.5 L1024.9,381.9 L1028.7,384.3 L1032.4,386.9 L1037.4,388.0 L1042.4,389.4 L1045.8,392.1 L1047.9,395.9 L1051.1,398.8 L1047.4,400.6 L1042.3,399.8 L1037.4,398.1 L1032.2,395.3 L1027.4,391.8 L1023.0,388.1 L1018.7,384.4 L1014.5,378.1 L1013.7,371.9"/>
<path d="M1081.0,383.1 L1084.8,377.4 L1088.5,380.4 L1092.3,383.1 L1099.8,384.9 L1099.2,389.6 L1099.3,394.3 L1097.7,398.9 L1095.3,403.1 L1094.1,398.6 L1092.3,394.3 L1091.0,388.1 L1086.6,387.2 L1082.3,385.6 L1081.0,383.1"/>
<path d="M1145.9,405.6 L1150.9,406.8"/>
<path d="M1218.2,426.8 L1224.4,425.8 L1229.4,423.8"/>
<path d="M1231.9,425.5 L1236.9,424.6 L1241.9,424.8 L1239.9,420.5 L1235.7,424.3"/>
<path d="M1221.9,415.0 L1227.6,415.3 L1233.2,416.0"/>
<path d="M1210.7,419.3 L1212.0,418.8"/>
<path d="M1233.2,408.1 L1235.7,408.8"/>
<path d="M1276.8,420.5 L1281.6,417.9 L1286.8,416.3 L1285.3,420.8 L1283.0,425.0 L1276.8,420.5"/>
<path d="M1414.0,415.5 L1419.0,413.8 L1422.2,418.8 L1419.0,421.8 L1414.5,420.5 L1414.0,415.5"/>
<path d="M1433.9,423.0 L1434.4,423.5"/>
<path d="M1435.7,428.8 L1436.2,429.3"/>
<path d="M1546.1,459.2 L1549.9,461.2"/>
<path d="M1716.0,156.2 L1719.7,152.4 L1724.7,152.4 L1729.8,154.7 L1734.7,157.4 L1739.7,162.4 L1743.4,161.9 L1740.9,167.4 L1744.6,169.9 L1742.1,171.1 L1747.1,176.1 L1749.6,179.6 L1750.9,183.6 L1752.1,189.9 L1748.4,193.6 L1747.1,189.9 L1742.1,189.3 L1737.2,187.9 L1732.8,187.0 L1728.4,186.9 L1727.2,182.9 L1734.7,181.1 L1734.7,176.1 L1728.4,174.9 L1725.7,171.4 L1722.2,168.7 L1720.9,163.7 L1719.0,159.6 L1716.0,156.2"/>
<path d="M1740.9,221.0 L1745.9,223.5 L1746.7,227.8 L1747.1,232.2 L1746.7,236.8 L1747.0,241.5 L1745.9,246.0 L1744.0,249.9 L1741.6,253.4 L1736.3,250.8 L1730.9,248.5 L1730.2,243.5 L1729.7,238.5 L1731.1,234.5 L1733.4,231.0 L1738.4,224.8 L1740.9,221.0"/>
<path d="M1717.2,284.6 L1720.9,283.4 L1724.7,284.6 L1725.9,292.1 L1724.3,297.0 L1723.4,302.1 L1717.2,303.3 L1712.2,299.6 L1711.7,294.6 L1714.7,290.8 L1717.2,284.6"/>
<path d="M1854.4,288.4 L1859.4,287.6 L1863.1,292.1 L1868.1,298.3 L1875.1,302.1 L1874.3,305.8 L1868.8,311.5 L1863.4,310.0 L1858.1,308.3 L1856.4,304.1 L1855.6,299.6 L1854.7,294.0 L1854.4,288.4"/>
<path d="M1713.5,317.0 L1718.5,312.5 L1717.2,315.8 L1713.5,317.0"/>
<path d="M1707.2,344.0 L1709.2,340.0"/>
<path d="M1692.8,361.9 L1698.5,358.9 L1699.3,363.9 L1694.8,365.7 L1692.8,361.9"/>
<path d="M1669.8,404.3 L1670.1,399.3 L1671.1,394.3 L1673.4,389.5 L1676.1,384.9 L1682.3,384.4 L1683.5,391.8 L1682.1,396.2 L1681.0,400.6 L1674.8,403.1 L1669.8,404.3"/>
<path d="M764.8,440.0 L762.7,444.4 L759.8,448.3 L757.7,452.6 L754.9,456.6 L753.2,460.7 L750.0,464.0 L748.5,468.2 L745.6,471.7 L743.7,475.7 L741.6,479.6 L737.5,479.0 L733.3,478.6 L727.4,479.2 L721.6,480.7 L719.4,484.2 L718.3,488.2 L715.8,491.5 L713.3,494.9 L708.9,498.8 L705.0,503.2 L703.5,507.3 L702.5,511.5 L700.0,518.1"/>
<path d="M767.3,440.0 L767.0,444.2 L766.5,448.3 L768.4,454.0 L769.0,460.0 L771.1,464.9 L773.2,469.9 L776.6,474.8 L779.8,479.9 L784.1,483.1 L788.1,486.6 L794.8,490.7 L798.9,493.2 L793.1,494.0 L788.1,489.9 L784.0,491.5 L787.3,494.9 L788.9,499.0 L789.8,503.2 L790.9,507.6 L793.1,511.5 L798.1,516.5 L800.6,519.0 L799.4,526.5 L798.2,530.9 L798.1,535.4 L797.3,539.8 L793.7,542.4 L789.8,544.7 L786.2,547.4 L783.1,550.6 L780.0,554.8 L778.1,559.7 L775.7,563.9 L773.2,568.0 L766.5,571.3 L764.6,575.4 L763.2,579.7 L760.2,583.6 L758.2,588.0 L755.6,591.2 L753.2,594.6 L752.9,597.9 L756.1,601.8 L758.2,606.3 L761.0,609.4 L763.2,612.9 L766.5,617.9 L768.2,624.5 L773.2,627.9 L779.8,631.2 L784.8,636.2 L788.1,634.5 L787.3,639.5 L783.1,646.2 L786.5,649.5 L785.6,656.1 L788.1,661.1 L794.8,664.4 L799.8,664.6 L804.7,665.3 L808.4,663.6 L812.4,662.7 L816.4,661.9 L821.6,660.4 L826.4,657.8 L832.2,653.6 L833.0,651.1 L836.3,646.2 L841.3,642.8 L846.3,640.3 L847.1,636.2 L846.0,629.5 L845.8,624.5 L845.5,619.6 L846.7,615.5 L847.1,611.2 L848.0,606.3 L849.6,604.6 L846.3,597.9 L844.6,591.3 L842.4,587.8 L839.7,584.6 L836.0,582.7 L833.0,579.7 L831.6,575.4 L829.7,571.3 L826.4,564.7 L823.4,561.8 L819.7,559.7 L817.4,555.4 L814.7,551.4 L812.5,547.1 L809.7,543.1 L811.4,538.1 L808.4,535.1 L806.4,531.4 L804.7,526.5 L808.9,526.5 L809.7,524.8 L806.4,523.1 L806.1,518.1 L804.7,513.2 L800.6,510.7 L806.4,509.8 L813.9,509.8 L814.7,503.2 L816.4,499.9 L813.1,497.4 L808.9,496.5 L813.1,494.9 L819.7,494.0 L826.4,494.5 L833.0,492.4 L838.2,490.8 L843.0,488.2 L847.9,485.5 L853.0,483.2 L857.2,481.2 L860.5,477.8 L864.6,475.7 L868.4,474.4 L872.4,473.8 L876.2,472.4 L880.3,471.6 L884.6,472.2 L888.7,471.4 L892.9,470.8 L897.8,467.4 L901.9,466.5 L905.7,465.0 L909.5,463.3 L914.6,462.6 L919.5,461.3"/>
<path d="M1015.9,447.5 L1020.3,449.6 L1024.2,452.5 L1028.3,452.9 L1032.5,453.0 L1036.7,452.6 L1040.8,453.3 L1045.8,456.2 L1050.8,459.1 L1057.4,461.6 L1060.8,464.0 L1064.1,466.6 L1067.1,469.3 L1070.5,471.5 L1074.1,473.3 L1078.3,474.2 L1082.4,475.7 L1084.0,481.6 L1086.7,484.8 L1089.0,488.2 L1090.7,492.3 L1092.4,496.5 L1085.7,498.2 L1090.7,499.6 L1095.7,500.7 L1098.2,503.2 L1094.6,505.2 L1090.7,506.5 L1090.1,510.6 L1089.9,514.8 L1090.5,519.1 L1092.4,523.1 L1095.3,526.2 L1097.6,529.6 L1100.0,533.1"/>
<path d="M766.5,616.2 L766.5,620.4 L765.7,624.5 L769.7,625.6 L773.2,627.9"/>
<path d="M832.2,653.6 L834.7,656.1 L839.2,659.0 L843.0,662.8 L840.0,665.8 L836.7,668.3 L833.0,670.3 L829.3,672.8 L825.5,675.2 L820.5,673.6 L825.0,671.0 L828.8,667.4 L833.0,664.4 L832.7,660.1 L831.3,656.1"/>
<path d="M820.5,674.4 L817.1,677.1 L813.4,679.3 L810.1,682.2 L806.4,684.4 L802.7,687.0 L798.7,689.0 L795.4,692.3 L791.4,694.4 L786.4,695.0 L781.5,693.7 L776.5,694.4"/>
<path d="M883.7,681.1 L879.7,685.0 L876.2,689.4 L871.8,691.5 L867.9,694.4 L864.6,696.0"/>
<path d="M1100.0,533.1 L1104.0,535.1 L1108.3,536.4 L1112.5,536.3 L1116.6,537.3 L1120.9,538.1 L1124.9,539.8 L1129.0,538.2 L1133.3,537.3 L1137.4,536.7 L1141.7,536.5 L1145.8,535.5 L1149.9,534.8 L1154.1,534.8 L1158.2,533.8 L1162.3,532.6 L1166.5,532.3 L1170.5,532.7 L1174.5,531.8 L1178.5,531.9 L1182.5,531.1 L1186.5,531.1 L1191.1,529.7 L1195.5,528.1 L1200.0,526.4 L1204.7,525.6 L1210.5,526.1 L1216.4,526.5 L1220.5,526.1 L1224.7,526.0 L1228.8,525.2 L1233.0,525.1 L1237.1,524.7 L1241.3,525.2 L1245.5,525.0 L1249.6,524.5 L1254.6,524.4 L1259.6,525.1 L1266.3,526.5 L1267.9,523.1 L1272.9,522.3 L1277.1,524.4 L1281.2,526.5 L1286.0,527.7 L1290.4,529.8 L1283.7,533.1 L1286.2,538.1 L1289.8,540.7 L1292.9,543.9 L1297.1,545.9 L1300.7,548.8 L1304.5,551.4 L1308.0,553.6 L1311.9,554.9 L1315.9,555.9 L1319.5,558.0 L1323.9,559.7 L1328.3,561.5 L1332.8,563.0 L1336.5,565.0 L1340.7,565.3 L1344.4,567.2 L1349.4,568.1 L1354.5,568.9 L1359.4,570.5 L1363.6,571.5 L1367.7,573.0 L1374.3,575.0 L1378.1,573.7 L1382.2,573.7 L1386.0,572.2 L1390.4,571.3 L1394.9,571.8 L1399.3,571.3 L1405.9,568.8 L1407.6,561.4 L1412.0,560.3 L1415.9,558.0 L1420.9,557.2 L1425.9,557.2 L1432.5,554.7 L1436.3,550.9 L1439.2,546.4 L1443.0,544.7 L1446.6,542.6 L1450.3,540.7 L1454.1,538.9 L1459.9,539.5 L1465.8,539.8 L1469.9,540.4 L1474.1,540.5 L1478.2,540.9 L1482.4,540.6 L1486.7,539.1 L1491.3,539.1 L1495.7,538.1 L1500.0,538.1"/>
<path d="M1430.0,551.4 L1434.6,548.1 L1439.2,544.7 L1435.5,548.6 L1432.5,553.1"/>
<path d="M1444.1,524.0 L1449.1,521.5 L1454.0,523.6 L1459.1,524.8 L1463.5,523.7 L1468.0,524.2 L1472.4,523.1 L1477.3,521.8 L1482.4,520.7 L1487.4,519.8 L1490.7,521.5 L1495.4,521.4 L1500.0,522.3"/>
<path d="M1444.1,524.0 L1445.7,528.1 L1448.6,531.5 L1450.0,535.6 L1454.9,530.6 L1460.4,530.3 L1465.8,528.9 L1470.3,529.2 L1474.7,529.8 L1479.1,530.6 L1483.4,531.6 L1487.4,533.4 L1491.7,534.5 L1495.7,536.4"/>
<path d="M1435.0,494.9 L1437.5,488.2 L1441.6,486.9 L1445.8,485.7 L1450.0,485.4 L1454.1,484.6 L1454.9,489.9 L1459.6,491.6 L1464.1,494.0 L1469.1,491.5 L1469.9,484.9 L1473.4,482.0 L1477.2,479.5 L1480.7,476.6 L1485.7,481.6 L1487.9,487.2 L1490.7,492.4 L1486.7,495.9 L1482.4,499.0 L1475.7,503.2 L1471.6,504.3 L1467.4,504.5 L1464.5,501.3 L1460.8,499.0 L1455.8,494.0 L1454.1,497.4 L1448.3,496.7 L1442.5,496.5 L1435.0,494.9"/>
<path d="M1474.1,499.5 L1480.7,498.2 L1478.2,501.2 L1474.1,499.5"/>
<path d="M1345.2,499.0 L1349.4,495.2 L1353.5,494.4 L1357.7,494.5 L1361.2,496.6 L1365.2,497.4 L1364.3,501.5 L1360.2,502.8 L1356.0,503.2 L1349.4,501.2 L1345.2,499.0"/>
<path d="M1450.5,508.5 L1454.9,506.8 L1458.3,508.2 L1454.1,510.2 L1450.5,508.5"/>
<path d="M1470.7,510.7 L1474.9,509.5 L1479.9,513.2 L1478.2,516.1 L1473.2,514.0 L1470.7,510.7"/>
<path d="M1500.0,524.5 L1505.0,525.2 L1510.0,524.8 L1515.1,523.6 L1519.9,521.5 L1524.9,519.8 L1529.8,521.0 L1534.9,521.5 L1540.1,519.7 L1544.9,516.8 L1549.3,516.8 L1553.8,516.9 L1558.2,517.3 L1563.1,518.9 L1568.2,519.5 L1573.0,517.2 L1578.0,515.4 L1583.1,514.0 L1588.0,515.1 L1593.1,515.6 L1598.0,516.8 L1603.2,516.0 L1608.1,517.3 L1613.0,518.1 L1618.0,518.2 L1623.0,518.5 L1627.0,517.9 L1631.0,518.9 L1635.0,517.6 L1639.0,517.7 L1643.0,517.8 L1647.2,517.8 L1651.3,517.0 L1655.5,516.6 L1659.6,515.6 L1661.3,517.3 L1655.4,522.3 L1651.2,522.2 L1647.1,523.3 L1643.0,524.0 L1638.6,525.1 L1634.1,525.1 L1629.7,525.6 L1623.0,528.1 L1618.9,533.1 L1614.7,533.4 L1608.1,532.3 L1603.5,531.8 L1598.9,531.8 L1594.4,530.5 L1589.8,530.1 L1584.7,530.4 L1579.8,531.7 L1574.8,532.3 L1570.5,533.4 L1566.5,535.6 L1560.7,539.3"/>
<path d="M1572.3,535.1 L1573.2,539.1 L1574.0,543.1 L1573.2,545.6 L1569.1,544.6 L1564.8,544.4 L1560.2,546.4 L1561.5,548.1 L1560.8,552.4 L1559.0,556.4 L1564.5,556.0 L1564.8,548.1 L1569.0,547.4 L1573.2,546.4 L1579.8,545.6 L1584.8,549.7 L1590.6,554.7 L1588.9,559.7 L1589.8,564.7 L1593.9,568.8 L1590.6,573.0 L1584.8,575.5 L1578.1,577.2 L1573.2,575.5 L1569.1,576.5 L1564.8,576.3 L1561.5,573.0 L1557.4,571.3 L1554.9,566.4 L1554.0,563.0 L1549.9,562.2 L1547.4,560.5 L1541.6,565.5 L1537.4,564.1 L1533.3,562.2 L1529.2,560.1 L1525.2,557.7 L1521.6,554.7 L1517.5,553.1 L1513.9,555.7 L1510.7,558.9 L1506.7,561.0 L1500.0,561.7"/>
<path d="M1578.1,536.4 L1581.2,540.0 L1584.8,543.1 L1587.5,547.0 L1590.6,550.6"/>
<path d="M1590.6,556.4 L1594.9,559.5 L1599.8,561.4 L1602.7,566.6 L1606.4,571.3 L1609.7,578.0 L1614.7,580.5 L1618.8,579.2 L1622.6,577.4 L1626.4,575.5 L1628.8,578.0 L1628.0,584.6 L1633.0,586.3 L1638.0,589.2 L1643.0,592.1"/>
<path d="M1628.8,578.0 L1633.1,578.6 L1637.1,580.4 L1641.3,581.3 L1645.3,583.4 L1649.1,585.7 L1653.0,588.0 L1656.8,592.0 L1661.3,595.4 L1664.6,599.6 L1663.3,604.6 L1662.1,609.6 L1666.3,603.8 L1670.4,609.6 L1671.2,615.4"/>
<path d="M1664.6,596.3 L1668.8,596.5 L1672.9,597.1 L1679.6,600.4 L1686.2,596.3 L1682.2,593.3 L1678.7,589.6 L1684.5,590.5 L1688.1,593.1 L1691.2,596.3 L1695.4,600.4 L1699.5,604.6 L1704.3,608.2 L1709.5,611.2 L1713.1,613.7 L1717.0,615.5 L1721.1,617.1 L1726.1,617.4 L1731.1,617.9 L1735.0,620.4 L1739.4,622.0 L1742.7,625.0 L1746.1,627.9 L1749.8,630.8 L1752.7,634.5 L1756.0,641.2 L1757.8,646.1 L1759.4,651.1 L1758.0,656.1 L1756.9,661.1 L1757.4,666.1 L1756.9,671.1 L1759.1,676.0 L1761.0,681.1 L1763.9,685.2 L1767.7,688.5 L1762.7,694.4"/>
<path d="M1691.2,597.9 L1694.8,601.9 L1697.8,606.3 L1702.0,608.3 L1705.4,611.5 L1709.5,613.7 L1713.6,614.6 L1717.3,616.4 L1721.1,618.2"/>
<path d="M1606.4,571.3 L1607.7,575.1 L1608.0,579.3 L1609.7,583.0 L1612.1,586.2 L1614.7,589.3 L1616.4,593.0 L1619.3,596.9 L1621.4,601.3 L1626.4,596.3 L1626.7,592.1 L1626.4,588.0 L1633.0,589.6 L1633.9,594.6 L1633.8,599.6 L1633.0,603.7 L1633.0,607.9 L1630.5,610.4"/>
<path d="M1621.4,601.3 L1616.4,606.3 L1614.4,611.0 L1611.1,615.0 L1608.9,619.6 L1608.9,625.4 L1613.1,626.2 L1612.2,632.9 L1618.9,636.2 L1619.1,641.2 L1619.7,646.2 L1619.9,651.2 L1618.9,656.1 L1623.9,657.8 L1628.0,662.8 L1633.0,660.3 L1638.0,662.8 L1643.0,663.6 L1641.5,667.4 L1639.7,671.1 L1640.9,675.4 L1643.0,679.4 L1648.0,677.7 L1644.6,682.7 L1642.1,689.4 L1637.4,692.6 L1633.0,696.0"/>
<path d="M1754.4,641.2 L1750.6,643.4 L1746.7,645.4 L1743.2,648.1 L1739.4,650.3 L1735.9,652.8 L1733.6,656.6 L1729.6,658.5 L1726.9,661.9 L1732.8,658.6 L1735.8,655.0 L1739.4,652.0 L1737.7,656.4 L1735.1,660.3 L1732.8,664.4 L1730.6,668.3 L1728.7,672.4 L1726.1,676.1 L1725.1,680.2 L1724.4,684.4 L1722.8,688.3 L1720.8,692.0 L1719.5,696.0"/>
<path d="M1679.6,517.3 L1678.7,520.6 L1684.1,521.6 L1689.5,522.3 L1694.5,527.3 L1695.3,533.1 L1695.0,537.6 L1694.9,542.0 L1693.7,546.4 L1694.7,550.5 L1695.3,554.7 L1690.4,558.9 L1685.4,559.3 L1680.4,559.7 L1676.2,563.9 L1671.5,566.5 L1666.3,568.0 L1662.7,570.4 L1658.8,572.2 L1657.1,576.3 L1660.7,574.3 L1664.6,573.0 L1670.4,573.7 L1676.2,573.8 L1679.6,575.5 L1684.0,574.9 L1688.5,574.6 L1692.9,573.8 L1697.9,573.1 L1702.8,573.8 L1707.8,573.8 L1712.2,573.2 L1716.7,573.7 L1721.1,573.0 L1726.0,570.6 L1731.1,568.8 L1736.1,563.9 L1735.9,558.5 L1736.9,553.1 L1738.6,549.7 L1735.8,544.9 L1733.6,539.8 L1734.5,535.7 L1734.4,531.4 L1733.2,527.3 L1732.8,523.1 L1734.4,519.0 L1737.9,516.3 L1741.1,513.2 L1744.4,506.5 L1739.4,506.9 L1734.4,506.2 L1729.9,507.3 L1725.5,508.6 L1721.1,509.8 L1716.7,510.4 L1712.2,510.0 L1707.8,509.8 L1703.5,511.8 L1699.0,513.0 L1694.5,514.0 L1689.6,515.5 L1684.4,515.5 L1679.6,517.3"/>
<path d="M1750.5,479.1 L1754.0,476.6 L1756.9,473.3 L1761.3,469.8 L1766.0,466.6 L1770.2,465.6 L1774.3,464.1 L1778.5,462.4 L1778.5,468.3 L1772.7,473.3 L1767.7,474.4 L1762.7,475.7 L1759.1,478.0 L1755.2,479.9 L1750.5,479.1"/>
<path d="M1546.6,458.6 L1549.9,460.8"/>
<path d="M705.0,696.0 L706.7,701.0 L709.5,704.8 L713.2,707.8 L716.6,711.0 L719.7,715.3 L723.4,719.2 L727.4,722.6 L729.9,729.3 L729.9,735.9 L734.1,741.7 L734.9,746.3 L734.9,750.9 L731.6,751.7 L726.6,754.2 L723.6,757.4 L720.8,760.8 L724.9,767.5 L723.2,771.5 L722.4,775.8 L722.5,780.8 L721.6,785.8 L723.3,789.8 L724.1,794.1 L721.6,800.7 L724.9,807.4 L730.4,807.9 L735.7,809.1 L739.9,809.1 L744.1,808.9 L748.2,809.9 L749.9,817.4 L749.0,822.4 L750.4,826.5 L753.3,829.9 L754.9,834.0 L757.8,837.3 L760.7,840.6 L766.5,843.1 L771.5,843.8 L776.5,844.0 L780.8,842.8 L784.8,840.6 L789.0,839.9 L793.1,840.6 L797.5,841.8 L802.0,841.3 L806.4,842.3 L810.4,842.6 L814.4,842.2 L818.4,842.4 L822.4,842.5 L826.4,842.3 L831.3,844.5 L836.3,846.5 L841.3,844.0 L845.5,844.3 L849.6,844.8 L854.2,843.1 L858.4,840.9 L862.9,839.0 L866.3,837.3 L871.4,836.5 L876.2,834.8 L880.2,836.4 L884.5,837.3 L891.2,837.3 L896.2,842.3 L902.8,844.0 L907.1,845.7 L911.1,848.1 L917.8,848.1 L921.1,845.6 L925.7,845.0 L930.3,845.6 L991.8,922.9 L998.4,918.8 L1001.2,921.8 L1004.2,924.6 L1009.2,923.4 L1012.1,919.8 L1016.0,917.2 L1019.2,913.8 L1024.2,913.0 L1027.9,914.6 L1031.8,915.6 L1035.8,916.3 L1040.8,915.7 L1045.8,915.5 L1049.6,917.1 L1053.5,918.5 L1057.8,918.8 L1061.6,920.4 L1066.1,919.1 L1070.5,917.4 L1074.6,915.0 L1079.1,913.8 L1083.2,915.3 L1087.4,916.3 L1091.6,915.3 L1095.7,913.8 L1100.0,913.0"/>
<path d="M778.1,836.5 L782.3,836.8 L786.5,837.3 L790.7,839.7 L794.8,842.3 L799.2,841.3 L803.6,841.0 L808.1,840.6 L812.7,841.0 L817.2,841.1 L821.8,840.0 L826.4,840.6 L831.3,841.7 L836.4,841.6 L841.3,842.3"/>
<path d="M1265.4,785.8 L1261.4,788.0 L1257.0,789.3 L1253.0,791.6 L1251.9,795.6 L1249.6,799.1 L1248.0,804.9 L1242.1,809.1 L1241.3,814.9 L1237.2,816.4 L1233.0,817.4 L1229.0,819.0 L1224.7,819.9 L1220.4,823.9 L1216.4,828.2 L1211.8,827.6 L1207.2,827.3 L1203.9,830.7 L1200.6,834.0 L1200.8,838.6 L1199.8,843.1 L1202.1,847.8 L1204.7,852.3 L1203.7,857.3 L1203.1,862.3 L1197.3,867.2 L1195.9,872.1 L1195.6,877.2 L1193.2,881.2 L1191.4,885.5 L1192.3,888.9 L1189.1,891.5 L1185.7,893.9 L1182.3,896.3 L1179.8,903.0 L1175.6,908.0 L1169.0,909.6 L1167.3,914.6 L1162.3,918.8 L1164.0,925.4 L1167.0,928.2 L1169.8,931.2 L1166.6,933.9 L1163.2,936.2 L1159.9,938.7 L1156.6,942.9 L1153.2,947.0 L1150.7,952.0"/>
<path d="M1265.4,785.8 L1272.9,788.3 L1279.6,784.1 L1284.0,783.3 L1288.5,783.4 L1292.9,782.5 L1297.3,781.8 L1301.8,782.2 L1306.2,782.5 L1309.3,779.7 L1312.8,777.5 L1316.1,770.8 L1320.4,767.2 L1324.4,763.3"/>
<path d="M1100.0,913.0 L1106.7,911.3 L1112.4,913.1 L1118.3,913.8 L1122.7,910.7 L1126.6,907.1 L1133.3,903.8 L1139.0,905.1 L1144.9,905.5 L1149.9,906.3 L1154.9,907.1 L1158.9,910.2 L1162.3,913.8 L1167.3,914.6"/>
<path d="M1554.9,696.0 L1555.7,702.7 L1559.0,707.6 L1564.3,709.2 L1569.8,710.1 L1574.7,710.6 L1579.3,712.4 L1584.0,713.5 L1583.1,717.6 L1586.5,720.9 L1591.4,720.1 L1596.4,714.3 L1603.1,710.1 L1608.2,709.1 L1613.1,707.6 L1617.9,705.1 L1623.0,703.5 L1629.7,699.3 L1632.2,696.0"/>
<path d="M1673.7,716.8 L1674.6,722.6 L1676.2,725.9 L1672.9,729.3 L1666.3,731.7 L1666.3,735.9 L1669.1,741.2 L1672.9,745.9 L1677.9,750.9 L1678.8,755.0 L1678.7,759.2 L1681.2,762.8 L1684.5,765.8 L1688.0,768.5 L1691.2,771.6 L1696.2,773.3 L1695.3,767.5 L1699.5,761.7 L1706.2,758.3 L1710.8,757.6 L1715.3,756.7 L1718.7,760.0 L1721.5,763.8 L1724.4,767.5 L1727.8,770.8 L1734.4,774.1 L1740.2,776.6 L1745.2,774.1 L1746.9,768.3 L1752.7,764.2 L1759.4,765.0 L1764.3,764.2 L1768.7,764.8 L1773.0,763.5 L1777.4,764.0 L1781.8,763.3 L1786.2,764.6 L1790.6,764.5 L1794.9,763.9 L1799.3,763.8"/>
<path d="M1678.7,701.8 L1682.9,701.0 L1689.5,703.5 L1694.0,703.1 L1698.4,702.3 L1702.8,701.8 L1706.9,703.2 L1711.1,704.3 L1717.8,702.7 L1719.5,696.0"/>
<path d="M1678.7,701.8 L1681.2,706.0 L1686.1,707.8 L1691.2,709.3 L1695.4,711.3 L1699.5,713.5 L1706.2,714.3 L1710.3,719.3 L1714.5,719.3 L1717.8,714.3 L1724.4,712.6 L1728.6,712.4 L1732.8,711.8 L1728.6,717.6 L1734.4,713.5 L1736.6,709.6 L1739.4,706.0 L1743.8,705.2 L1748.2,704.5 L1752.7,704.3 L1758.5,703.7 L1764.3,703.0"/>
<path d="M1762.7,696.0 L1766.0,698.5 L1764.3,703.0 L1768.3,705.4 L1772.7,706.8 L1778.4,708.1 L1784.3,708.5 L1785.9,704.1 L1788.4,700.2 L1792.6,699.3 L1798.3,700.5 L1804.2,701.0 L1809.0,702.9 L1814.2,703.5 L1819.4,704.6 L1824.2,706.8 L1828.6,710.3 L1832.5,714.3 L1835.3,717.2 L1837.5,720.6 L1839.2,724.3 L1842.5,730.9 L1839.2,735.1 L1834.5,735.8 L1830.0,737.6 L1825.9,741.7 L1824.2,749.2 L1819.9,751.1 L1815.9,753.4 L1809.2,757.5 L1804.0,760.4 L1799.3,764.2 L1795.8,767.4 L1792.6,770.8 L1787.6,771.0 L1782.6,770.8 L1776.0,772.5 L1773.5,779.1 L1772.0,783.8 L1770.2,788.3 L1767.0,790.9 L1764.3,794.1 L1761.8,797.4 L1763.5,802.4 L1767.7,805.7 L1770.6,810.1 L1772.7,814.9 L1769.3,821.5 L1772.7,827.3 L1777.6,832.3 L1781.0,827.3 L1786.0,825.7 L1792.6,827.3 L1796.1,829.6 L1799.3,832.3 L1799.3,838.1 L1794.3,844.0 L1792.6,849.8 L1787.6,851.5 L1782.6,853.1 L1777.7,855.4 L1772.7,857.3 L1766.0,860.6 L1761.0,864.7 L1756.7,864.0 L1752.7,862.3 L1746.1,860.6 L1743.6,865.6 L1736.1,868.1 L1730.3,868.9 L1724.4,868.9 L1720.3,874.7 L1717.0,880.5 L1721.1,885.5 L1723.2,889.5 L1724.4,893.8 L1723.6,898.1 L1721.9,902.2 L1724.4,905.5 L1726.9,908.8 L1725.3,913.8 L1719.5,917.9 L1713.6,922.1 L1710.6,925.5 L1707.7,929.1 L1703.9,931.7 L1701.2,935.4 L1704.5,938.4 L1707.5,941.8 L1710.4,945.2 L1712.9,948.9 L1716.1,952.0"/>
<path d="M1841.6,723.4 L1849.1,722.6 L1853.3,725.0 L1857.4,727.6 L1860.2,730.8 L1863.6,733.4 L1866.0,737.0 L1869.3,739.7 L1872.4,742.6 L1868.9,739.3 L1864.7,736.9 L1860.8,734.2 L1856.8,731.9 L1852.7,729.7 L1849.1,726.8 L1842.5,725.1"/>
<path d="M1857.4,727.6 L1861.1,729.6 L1864.8,731.5 L1868.3,733.8 L1871.7,736.1 L1875.3,738.2 L1878.5,741.0 L1882.4,742.6 L1886.6,745.3 L1891.2,747.1 L1895.3,750.0 L1900.0,751.7"/>
<path d="M1559.9,780.0 L1564.5,780.2 L1569.0,780.8 L1573.8,780.3 L1578.5,779.4 L1583.1,778.3 L1585.6,782.5 L1579.8,783.3 L1581.5,787.4 L1574.8,790.8 L1580.1,792.8 L1584.8,795.8 L1580.6,801.6 L1583.1,802.4 L1579.0,807.4 L1579.8,812.4 L1582.3,815.7 L1578.1,822.4 L1574.0,829.0 L1572.9,834.0 L1571.5,839.0 L1567.3,844.0 L1566.5,849.0 L1569.8,853.1 L1574.0,853.1 L1573.2,857.3 L1569.0,858.1 L1564.8,854.8 L1562.6,851.3 L1561.5,847.3 L1559.9,842.3 L1561.5,835.7 L1566.5,832.3 L1571.5,827.3 L1576.5,822.4 L1577.3,815.7 L1574.0,810.7 L1575.6,807.4 L1573.2,800.7 L1568.2,799.1 L1563.2,802.4 L1559.9,800.7 L1562.3,794.1 L1554.9,791.6 L1558.5,789.5 L1561.5,786.6 L1559.9,780.0"/>
<path d="M1000.0,920.4 L1005.0,924.2 L1010.0,922.9 L1013.0,919.6 L1016.9,917.3 L1020.0,914.2 L1025.1,914.4 L1030.0,915.2 L1034.9,916.7 L1039.9,916.6 L1044.9,916.0 L1049.2,917.1 L1053.6,917.8 L1057.9,918.4 L1062.3,919.2 L1066.7,918.3 L1070.9,916.8 L1075.4,916.1 L1079.8,915.5 L1084.0,915.4 L1088.1,915.9 L1092.3,915.5 L1097.3,914.4 L1102.2,912.9 L1107.2,911.7 L1111.4,912.2 L1115.6,911.8 L1119.7,912.5 L1123.3,910.5 L1126.6,908.1 L1129.7,905.5 L1135.9,904.2 L1140.5,904.8 L1145.1,905.3 L1149.6,906.7 L1154.6,908.7 L1159.6,910.5 L1165.8,915.5"/>
<path d="M1165.8,915.5 L1162.1,920.4 L1164.1,924.1 L1165.8,927.9 L1169.6,931.7 L1164.6,934.8 L1159.6,937.9 L1157.3,941.4 L1154.3,944.4 L1152.1,947.9 L1150.5,953.0 L1148.4,957.9 L1148.8,962.1 L1149.9,966.2 L1150.9,970.3 L1147.8,973.5 L1145.2,977.1 L1142.1,980.3 L1139.0,983.0 L1135.3,985.0 L1132.2,987.8 L1129.7,994.0 L1131.4,998.4 L1133.4,1002.7 L1134.2,1007.7 L1133.7,1012.7 L1134.7,1017.7 L1134.7,1021.7 L1134.0,1025.7 L1133.4,1029.7 L1133.5,1033.7 L1133.4,1037.7 L1132.8,1042.2 L1132.1,1046.7 L1131.8,1051.2 L1130.0,1055.5 L1129.7,1060.1 L1131.2,1064.3 L1132.9,1068.5 L1134.7,1072.6 L1135.4,1077.5 L1135.5,1082.5 L1135.9,1087.5 L1137.0,1091.4 L1138.8,1095.1 L1140.8,1098.7 L1142.1,1102.5 L1143.6,1107.0 L1145.9,1111.2 L1147.3,1115.7 L1149.6,1119.9 L1151.7,1124.5 L1154.6,1128.7 L1160.8,1127.4 L1163.3,1130.8 L1164.6,1134.9 L1166.6,1140.2 L1169.6,1144.9 L1172.6,1147.9 L1174.8,1151.4 L1177.1,1154.9 L1179.6,1158.6 L1176.9,1162.8 L1174.6,1167.3 L1172.1,1172.3 L1167.1,1173.6 L1130.9,1208.5 L1130.9,1213.5 L1137.2,1209.7 L1141.2,1211.2 L1145.5,1211.0 L1149.6,1212.2 L1152.2,1217.5 L1155.9,1222.2 L1159.1,1225.0 L1162.7,1227.2 L1166.4,1229.4 L1169.6,1232.2 L1173.2,1235.2 L1176.6,1238.4 L1179.6,1242.1 L1183.3,1245.1 L1186.3,1248.6 L1189.5,1252.1 L1187.0,1259.6 L1188.8,1263.9 L1191.7,1267.7 L1193.3,1272.1 L1195.6,1275.6 L1197.0,1279.5 L1195.8,1282.0"/>
<path d="M1165.8,915.5 L1169.6,909.2 L1177.1,906.7 L1179.2,902.3 L1181.5,898.0"/>
<path d="M1412.7,1083.8 L1408.5,1083.3 L1404.5,1081.6 L1400.2,1081.3 L1400.7,1085.7 L1401.5,1090.0 L1404.4,1093.9 L1406.0,1098.6 L1409.0,1102.5 L1412.7,1105.6 L1416.8,1108.4 L1420.1,1111.9 L1423.9,1115.0 L1427.9,1117.8 L1431.7,1120.8 L1435.1,1124.4 L1438.9,1127.4 L1442.0,1130.6 L1445.8,1133.0 L1448.9,1136.2 L1451.2,1140.6 L1453.9,1144.9 L1452.9,1149.9 L1452.6,1154.9 L1451.4,1162.3 L1451.8,1166.7 L1452.5,1171.0 L1452.6,1175.4 L1452.6,1179.8 L1454.0,1183.8 L1456.4,1187.3 L1457.7,1191.3 L1460.4,1194.6 L1461.4,1198.7 L1463.8,1202.2 L1465.6,1206.0 L1467.2,1209.9 L1469.4,1213.5 L1471.3,1217.2 L1471.1,1221.4 L1469.9,1225.5 L1470.1,1229.7 L1469.0,1234.7 L1467.6,1239.6 L1473.8,1243.4 L1478.0,1244.0 L1482.2,1244.5 L1486.3,1245.9 L1491.2,1244.6 L1496.2,1243.8 L1501.2,1243.4 L1505.6,1243.4 L1509.9,1244.2 L1514.3,1244.5 L1518.7,1244.6 L1523.0,1246.2 L1527.4,1245.9 L1528.4,1251.5 L1528.7,1257.1 L1526.6,1261.1 L1525.6,1265.5 L1523.7,1269.6 L1519.4,1270.9 L1515.1,1272.4 L1511.2,1274.6 L1507.0,1276.0 L1503.1,1278.2 L1498.8,1279.5 L1495.0,1282.0"/>
<path d="M1412.7,1083.8 L1415.1,1087.4 L1416.4,1091.5 L1419.0,1095.0 L1424.0,1095.6 L1429.0,1095.4 L1433.9,1096.3 L1438.9,1096.4 L1443.9,1095.4 L1448.9,1095.0 L1454.0,1095.8 L1458.9,1097.5 L1461.3,1101.7 L1464.1,1105.7 L1466.3,1110.0 L1471.3,1115.0 L1476.2,1113.2 L1481.3,1112.6 L1486.3,1111.2 L1490.7,1111.2 L1495.0,1110.3 L1499.4,1110.5 L1503.7,1110.0 L1506.8,1112.8 L1510.4,1114.9 L1513.7,1117.5 L1521.2,1118.7 L1522.0,1114.2 L1523.7,1110.0 L1527.9,1110.5 L1531.9,1112.2 L1536.2,1112.5 L1539.4,1117.3 L1543.6,1121.2 L1547.6,1124.0 L1551.1,1127.4 L1553.2,1131.0 L1556.0,1133.9 L1558.3,1137.3 L1561.1,1140.4 L1563.6,1143.6 L1568.6,1144.1 L1573.6,1144.9 L1577.7,1141.6 L1581.0,1137.4 L1581.3,1132.4 L1581.6,1127.4 L1582.3,1122.4 L1581.3,1118.3 L1581.0,1114.2 L1581.0,1110.0 L1583.2,1106.6 L1586.0,1103.7 L1590.7,1103.7 L1595.3,1104.5 L1600.0,1105.0"/>
<path d="M1405.2,1090.0 L1408.0,1093.5 L1411.5,1096.3 L1414.0,1100.0 L1418.9,1099.2 L1423.9,1098.7 L1428.4,1098.3 L1432.9,1098.8 L1437.4,1097.9 L1441.9,1097.0 L1446.4,1097.5 L1452.0,1099.5 L1457.6,1101.2 L1459.8,1105.5 L1462.4,1109.6 L1465.1,1113.7"/>
<path d="M1455.1,1154.9 L1456.9,1159.2 L1458.7,1163.4 L1461.3,1167.3 L1458.9,1174.8 L1453.9,1179.8"/>
<path d="M1149.6,1282.0 L1153.3,1280.1 L1156.7,1277.6 L1159.6,1274.6 L1164.7,1272.9 L1169.6,1270.8 L1175.8,1273.3 L1178.1,1277.5 L1179.6,1282.0"/>
<path d="M1600.0,1102.5 L1602.6,1098.5 L1605.4,1094.7 L1608.7,1091.3 L1613.4,1091.9 L1617.8,1094.0 L1622.4,1095.0 L1626.9,1096.8 L1631.5,1098.4 L1636.2,1099.5 L1639.9,1097.5 L1643.7,1095.8 L1647.4,1093.8 L1651.8,1093.7 L1656.1,1092.3 L1660.4,1091.7 L1664.8,1091.3 L1668.4,1087.9 L1672.3,1085.0 L1676.3,1084.0 L1680.4,1084.7 L1684.4,1083.4 L1688.5,1083.8 L1689.7,1079.4 L1691.4,1075.3 L1693.5,1071.3 L1698.1,1071.4 L1702.7,1070.9 L1707.2,1070.1 L1709.5,1065.9 L1711.0,1061.3 L1715.2,1062.3 L1719.1,1063.9 L1723.4,1064.6 L1728.0,1063.7 L1732.6,1062.3 L1737.2,1061.3 L1738.5,1057.0 L1740.8,1053.2 L1742.6,1049.1 L1744.6,1045.1 L1748.5,1043.9 L1751.9,1041.4 L1755.7,1040.1 L1759.6,1038.9 L1763.3,1035.5 L1766.0,1031.2 L1769.6,1027.7 L1773.3,1022.7 L1771.2,1017.8 L1769.6,1012.8 L1768.3,1007.7 L1764.4,1004.3 L1760.8,1000.7"/>
<path d="M1722.2,898.0 L1722.2,901.7 L1724.6,904.9 L1727.2,908.0 L1727.2,915.5 L1723.6,917.7 L1719.7,919.2 L1716.4,921.7 L1713.3,924.6 L1709.7,926.7 L1706.4,929.2 L1704.0,932.6 L1701.0,935.4 L1760.8,1000.7"/>
<path d="M1760.8,1000.7 L1765.4,1000.9 L1770.0,1002.0 L1774.6,1002.2 L1779.6,1002.7 L1784.5,1002.3 L1789.5,1002.7 L1794.7,1001.8 L1799.5,999.7 L1803.9,997.5 L1808.2,995.3 L1814.5,999.0 L1817.4,1003.1 L1819.5,1007.7 L1823.5,1009.8 L1826.9,1012.7 L1826.5,1017.8 L1825.8,1022.8 L1824.4,1027.7 L1823.1,1032.0 L1822.5,1036.4 L1821.5,1040.7 L1820.7,1045.1 L1818.0,1049.4 L1814.4,1053.1 L1812.0,1057.6 L1812.0,1062.6 L1816.1,1062.0 L1820.3,1061.9 L1824.4,1062.6 L1828.6,1063.2 L1832.7,1064.2 L1836.9,1064.6 L1841.7,1067.3 L1846.9,1068.8 L1850.4,1071.5 L1853.1,1075.1 L1851.9,1079.2 L1850.9,1083.5 L1849.4,1087.5 L1852.2,1091.0 L1854.4,1095.0 L1857.4,1097.9 L1858.9,1102.0 L1861.8,1105.0 L1864.0,1109.0 L1866.8,1112.5 L1864.3,1115.8 L1862.0,1119.2 L1859.4,1122.4 L1856.8,1127.4 L1854.4,1132.4 L1850.5,1134.4 L1847.0,1137.0 L1843.1,1138.8 L1839.4,1141.1 L1836.9,1146.1 L1839.0,1149.6 L1841.9,1152.4 L1840.8,1157.4 L1839.4,1162.3 L1836.8,1167.3 L1834.4,1172.3 L1832.7,1177.3 L1831.3,1182.4 L1829.4,1187.3 L1829.7,1191.5 L1828.3,1195.5 L1828.2,1199.7 L1828.2,1204.2 L1828.3,1208.7 L1827.4,1213.2 L1827.6,1217.7 L1826.9,1222.2 L1828.5,1227.2 L1829.8,1232.4 L1831.9,1237.2 L1832.9,1241.3 L1833.6,1245.5 L1834.4,1249.6 L1838.3,1251.1 L1842.1,1253.0 L1845.8,1255.0 L1849.4,1257.1 L1848.7,1261.2 L1848.8,1265.4 L1848.2,1269.5 L1848.2,1273.7 L1848.2,1277.8 L1848.1,1282.0"/>
<path d="M1947.1,970.1 L1943.5,974.3 L1939.2,977.8 L1935.6,979.8 L1931.6,980.6 L1927.8,982.0 L1924.2,984.0 L1923.0,988.4 L1921.7,992.8 L1926.7,997.8 L1926.2,1001.8 L1925.1,1005.7 L1924.5,1009.7 L1925.0,1013.8 L1924.2,1017.7 L1925.5,1021.8 L1926.2,1026.0 L1926.7,1030.2 L1929.7,1034.3 L1933.5,1037.5 L1936.7,1041.4 L1939.4,1045.8 L1941.2,1050.8 L1944.1,1055.1 L1948.2,1058.1 L1952.2,1061.2 L1956.6,1063.8 L1957.0,1068.5 L1958.5,1073.0 L1959.1,1077.6 L1958.1,1081.7 L1957.9,1086.0 L1956.6,1090.0 L1959.1,1095.0 L1956.2,1098.4 L1952.8,1101.2 L1949.1,1103.7 L1954.7,1103.5 L1960.3,1103.7 L1961.8,1108.6 L1964.5,1112.9 L1966.6,1117.5 L1968.3,1122.3 L1969.1,1127.4 L1971.0,1132.7 L1974.1,1137.4 L1974.6,1142.5 L1975.5,1147.4 L1976.6,1152.4 L1978.1,1157.3 L1979.6,1162.2 L1980.3,1167.3 L1978.8,1172.2 L1978.4,1177.5 L1976.6,1182.3 L1980.7,1185.2 L1983.9,1189.2 L1987.8,1192.3 L1986.7,1196.6 L1986.9,1201.1 L1985.4,1205.3 L1985.3,1209.7 L1983.8,1213.6 L1983.1,1217.8 L1981.2,1221.6 L1980.2,1225.6 L1979.1,1229.7 L1977.4,1234.1 L1976.0,1238.7 L1973.6,1242.8 L1971.6,1247.1 L1970.7,1252.2 L1969.1,1257.1 L1968.5,1261.4 L1966.8,1265.5 L1964.9,1269.4 L1964.5,1273.8 L1962.3,1277.7 L1961.6,1282.0"/>
<path d="M2072.1,970.1 L2069.3,973.8 L2067.9,978.2 L2065.9,982.4 L2062.9,986.0 L2061.3,990.3 L2064.0,993.9 L2066.3,997.8 L2072.6,1002.7 L2068.0,1003.3 L2063.8,1005.2 L2062.6,1009.3 L2062.7,1013.7 L2061.3,1017.7 L2056.4,1018.7 L2051.4,1019.6 L2046.4,1020.2 L2042.4,1019.2 L2038.4,1019.7 L2034.4,1019.6 L2030.4,1018.9 L2026.4,1018.9 L2022.6,1021.0 L2018.9,1023.1 L2014.9,1024.9 L2011.5,1027.7 L2010.0,1032.6 L2009.0,1037.7 L2011.5,1041.2 L2013.0,1045.2 L2015.2,1048.9 L2013.1,1053.4 L2012.7,1058.5 L2011.2,1063.1 L2009.0,1067.6 L2007.3,1071.8 L2006.0,1076.2 L2005.6,1080.7 L2004.0,1085.0 L2000.7,1089.2 L1996.5,1092.5 L1996.1,1096.9 L1997.1,1101.3 L1997.3,1105.6 L1997.8,1110.0 L2001.5,1112.8 L2004.9,1115.9 L2008.0,1119.4 L2011.5,1122.4 L2012.8,1126.5 L2013.9,1130.8 L2015.2,1134.9 L2018.8,1137.9 L2022.3,1140.9 L2025.9,1143.8 L2028.9,1147.4 L2031.0,1152.2 L2032.2,1157.3 L2033.9,1162.3 L2038.1,1162.9 L2042.4,1163.4 L2046.4,1164.8 L2050.8,1164.6 L2055.0,1163.3 L2059.4,1162.7 L2063.8,1162.8 L2064.8,1167.6 L2064.9,1172.6 L2065.9,1177.4 L2066.3,1182.3 L2068.7,1187.3 L2071.3,1192.3 L2071.4,1197.3 L2071.1,1202.2 L2071.3,1207.2 L2074.7,1210.2 L2078.8,1212.2 L2080.4,1215.9 L2081.6,1219.8 L2083.5,1223.4 L2085.0,1227.2 L2086.7,1231.1 L2088.8,1234.7"/>
<path d="M1000.0,1307.0 L1104.7,1307.5 L1100.9,1304.1 L1097.4,1300.3 L1093.5,1297.0 L1094.6,1293.1 L1096.7,1289.6 L1098.6,1286.0 L1099.8,1282.1 L1103.4,1284.2 L1107.2,1285.8 L1109.4,1289.4 L1110.6,1293.6 L1113.1,1297.1 L1115.8,1300.5 L1117.2,1304.5 L1121.3,1303.8 L1125.5,1303.1 L1129.7,1303.3 L1133.2,1301.1 L1136.1,1298.0 L1139.7,1295.8 L1142.7,1292.7 L1145.2,1289.2 L1147.6,1285.6 L1149.9,1282.0 L1152.1,1278.3 L1156.3,1275.9 L1161.0,1274.8 L1165.5,1272.9 L1169.6,1270.4 L1173.5,1272.1 L1177.1,1274.6 L1179.3,1278.1 L1180.8,1281.9 L1183.1,1285.3 L1185.7,1288.6 L1187.9,1292.0 L1189.5,1295.8 L1191.9,1299.6 L1193.4,1303.8 L1195.0,1308.0 L1197.8,1311.7 L1199.5,1315.8 L1200.1,1319.9 L1200.0,1324.1 L1200.1,1328.3 L1200.2,1332.4 L1199.6,1336.6 L1200.2,1340.7 L1200.0,1344.9 L1200.3,1349.1 L1200.7,1353.2 L1204.7,1352.0 L1208.8,1351.6 L1212.8,1350.8 L1217.0,1350.7 L1216.4,1346.3 L1215.6,1342.0 L1214.5,1337.7 L1214.5,1333.2 L1213.1,1329.2 L1212.1,1325.0 L1210.5,1321.1 L1208.6,1317.2 L1207.0,1313.3 L1204.8,1309.9 L1202.6,1306.4 L1201.5,1302.4 L1198.6,1299.3 L1197.4,1295.4 L1194.9,1292.1 L1193.3,1288.3 L1194.7,1283.4 L1195.3,1278.2 L1197.0,1273.4 L1194.0,1270.0 L1191.8,1266.0 L1189.3,1262.3 L1187.0,1258.4 L1189.5,1253.4 L1186.7,1248.9 L1183.3,1244.8 L1179.6,1240.9 L1176.1,1238.4 L1173.1,1235.3 L1169.9,1232.4 L1165.9,1230.6 L1162.9,1227.5 L1159.6,1224.7 L1157.4,1220.2 L1154.6,1216.0"/>
<path d="M1217.0,1350.7 L1266.8,1393.1 L1270.8,1391.0 L1274.3,1388.1 L1279.0,1390.7 L1283.0,1394.3 L1286.8,1388.1 L1291.8,1387.8 L1296.8,1388.1 L1300.5,1385.2 L1303.0,1381.1 L1306.7,1378.1 L1310.3,1375.8 L1314.1,1374.1 L1317.8,1372.3 L1321.7,1370.6 L1326.7,1371.3 L1331.7,1371.9 L1335.3,1376.5 L1337.9,1381.8 L1335.4,1386.0 L1332.6,1389.9 L1330.4,1394.3 L1332.6,1398.3 L1335.4,1401.8 L1340.6,1399.1 L1345.4,1395.6 L1346.1,1390.5 L1347.9,1385.6 L1350.5,1382.4 L1353.4,1379.4 L1356.6,1376.8 L1361.6,1377.4 L1366.6,1378.1 L1367.6,1374.0 L1368.5,1369.8 L1369.1,1365.6 L1374.1,1359.4 L1381.5,1358.1 L1385.2,1355.5 L1388.8,1352.8 L1393.0,1351.0 L1396.5,1348.2 L1399.0,1345.7 L1402.8,1347.5 L1406.5,1349.4 L1410.2,1347.1 L1414.3,1345.6 L1417.6,1342.8 L1421.4,1340.7 L1423.9,1333.2 L1427.7,1331.5 L1431.7,1330.0 L1435.3,1327.9 L1438.9,1325.7 L1439.5,1329.9 L1439.9,1334.0 L1440.1,1338.2 L1443.6,1336.1 L1446.4,1333.2 L1449.3,1329.8 L1452.2,1326.5 L1455.3,1323.4 L1458.9,1320.7 L1462.1,1315.8 L1465.1,1310.8 L1465.4,1306.3 L1465.0,1301.8 L1466.5,1297.3 L1466.1,1292.8 L1466.3,1288.3 L1469.8,1286.0 L1473.8,1284.6 L1478.0,1284.2 L1482.1,1283.6 L1486.3,1283.3 L1490.5,1281.8 L1494.7,1280.2 L1498.8,1278.3 L1502.8,1277.4 L1506.0,1274.6 L1510.2,1274.1 L1513.7,1272.1 L1519.4,1271.4 L1524.9,1269.6 L1526.3,1265.0 L1528.7,1260.9 L1528.3,1255.9 L1528.4,1250.8 L1527.4,1245.9 L1523.0,1245.7 L1518.6,1245.4 L1514.3,1245.1 L1509.9,1244.8 L1505.6,1243.5 L1501.2,1243.4 L1496.2,1244.2 L1491.3,1245.5 L1486.3,1245.9 L1481.9,1244.8 L1477.5,1243.7 L1473.2,1242.2 L1468.8,1240.9 L1467.9,1236.0 L1467.6,1231.0 L1468.9,1225.9 L1471.4,1221.2 L1472.6,1216.0"/>
<path d="M1000.0,1365.6 L1003.4,1368.7 L1007.5,1370.6 L1010.1,1374.6 L1013.8,1377.7 L1016.2,1381.8 L1015.1,1386.4 L1013.6,1391.0 L1012.5,1395.6 L1017.5,1401.8 L1010.0,1404.3 L1005.0,1403.1 L1000.0,1401.8"/>
<path d="M1825.7,1216.0 L1827.3,1219.7 L1828.2,1223.7 L1830.2,1227.3 L1831.9,1231.0 L1832.1,1235.4 L1832.7,1239.8 L1833.4,1244.1 L1834.4,1248.4 L1838.1,1250.1 L1841.1,1253.0 L1844.9,1254.6 L1848.1,1257.1 L1848.1,1261.2 L1848.3,1265.3 L1848.7,1269.4 L1849.4,1273.4 L1848.4,1277.3 L1848.7,1281.4 L1847.7,1285.3 L1847.1,1289.3 L1846.9,1293.3 L1852.0,1294.8 L1856.9,1297.0 L1854.4,1304.5 L1859.3,1306.0 L1864.3,1307.0 L1867.6,1310.3 L1870.5,1313.9 L1874.0,1317.0 L1876.8,1320.7 L1880.0,1324.1 L1883.0,1327.7 L1886.0,1331.2 L1889.3,1334.5 L1894.0,1335.4 L1898.5,1336.8 L1902.6,1339.4 L1907.3,1340.3 L1911.7,1341.9 L1915.0,1344.9 L1918.5,1347.6 L1921.7,1350.7 L1927.9,1353.9 L1930.2,1349.6 L1932.3,1345.2 L1934.2,1340.7 L1933.4,1335.6 L1931.7,1330.7 L1935.8,1328.7 L1939.2,1325.7 L1943.6,1323.3 L1947.9,1320.7 L1948.6,1315.8 L1949.1,1310.8 L1952.3,1307.3 L1955.9,1304.3 L1959.1,1300.8 L1959.9,1296.8 L1960.2,1292.8 L1960.2,1288.7 L1961.3,1284.8 L1961.6,1280.8 L1963.9,1277.3 L1965.3,1273.3 L1966.6,1269.3 L1969.1,1265.9 L1970.6,1261.7 L1970.7,1257.1 L1971.5,1252.7 L1972.8,1248.4 L1971.6,1240.9 L1973.1,1237.0 L1975.8,1233.7 L1977.5,1229.9 L1979.1,1226.0 L1982.2,1221.0 L1985.3,1216.0"/>
<path d="M1927.9,1353.9 L1931.7,1351.7 L1935.4,1349.1 L1939.2,1346.9 L1943.5,1346.3 L1947.9,1346.4 L1952.2,1347.2 L1956.6,1346.9 L1958.4,1342.7 L1959.1,1338.2 L1956.6,1332.0 L1961.7,1331.2 L1966.6,1329.5 L1971.6,1328.2 L1974.1,1320.7 L1979.1,1320.9 L1984.1,1321.3 L1989.0,1322.0 L1993.2,1322.4 L1997.5,1323.0 L2001.5,1324.5 L2002.3,1320.0 L2004.0,1315.8 L2007.9,1314.0 L2012.2,1313.4 L2016.1,1311.8 L2019.8,1309.5 L2023.9,1308.3 L2028.3,1308.6 L2032.7,1308.7 L2037.0,1309.2 L2041.4,1309.5 L2043.6,1305.8 L2046.1,1302.5 L2048.4,1298.8 L2051.4,1295.8 L2056.4,1289.6 L2061.2,1287.4 L2066.3,1285.8 L2070.4,1284.3 L2074.8,1283.9 L2078.8,1282.1 L2084.1,1284.7 L2088.8,1288.3"/>
<path d="M2078.8,1216.0 L2081.4,1220.9 L2083.8,1226.0 L2088.8,1228.5 L2090.0,1234.7"/>
<path d="M1000.0,1307.8 L995.7,1306.7 L991.5,1305.6 L987.0,1305.4 L983.0,1303.4 L978.6,1302.8 L974.4,1303.9 L970.1,1304.5 L966.1,1306.3 L960.4,1306.9 L954.9,1308.3 L954.9,1365.1 L961.1,1363.1 L968.6,1365.6 L973.6,1365.8 L978.5,1364.7 L983.5,1364.4 L987.1,1366.2 L991.0,1367.6 L995.4,1366.1 L1000.0,1365.1"/>
<path d="M936.2,1458.4 L936.2,1408.0 L940.4,1408.0 L944.5,1407.4 L948.6,1406.8 L952.7,1405.4 L956.9,1404.1 L961.1,1403.0 L966.2,1401.3 L971.1,1399.3 L976.1,1401.8 L979.2,1399.1 L983.1,1397.3 L986.0,1394.3 L989.8,1396.8 L993.5,1399.3 L1000.0,1401.8"/>
<path d="M410.5,1435.0 L414.0,1438.9 L417.5,1442.9 L421.1,1445.0 L424.9,1446.7 L427.4,1450.4 L431.5,1451.0 L435.6,1451.3 L439.5,1452.6 L443.6,1452.9 L447.2,1455.8 L451.1,1458.4"/>
<path d="M1899.8,751.7 L1902.8,754.7 L1906.6,756.8 L1909.5,760.0 L1913.1,762.3 L1914.4,765.0"/>
<path d="M1913.1,765.0 L1916.0,768.4 L1920.0,770.8 L1923.2,773.8 L1926.4,777.0 L1928.8,781.8 L1931.7,786.3 L1937.1,790.3 L1941.1,789.0 L1943.6,792.5 L1946.4,795.6 L1949.2,798.8 L1951.0,802.6 L1953.0,806.3 L1958.4,810.3 L1959.3,814.2 L1959.7,818.2 L1958.8,823.5 L1958.4,828.9 L1959.1,834.2 L1959.7,839.5 L1957.0,844.9 L1951.7,848.9 L1949.8,853.4 L1949.1,858.2 L1948.7,862.6 L1948.4,867.1 L1947.7,871.5 L1947.2,875.9 L1947.5,880.4 L1947.1,884.8 L1946.4,888.9 L1945.1,892.8 L1941.7,896.8 L1946.4,899.4 L1948.0,904.3 L1950.4,908.8 L1950.3,912.8 L1949.5,916.8 L1949.4,920.8 L1948.4,924.7 L1949.0,929.1 L1948.8,933.6 L1949.1,938.0 L1948.7,942.5 L1947.2,946.8 L1947.1,951.4 L1947.5,956.0 L1947.5,960.7 L1947.9,965.3 L1947.7,970.0"/>
<path d="M1958.4,810.3 L1957.6,815.1 L1957.7,820.1 L1957.0,824.9 L1957.6,829.8 L1959.0,834.5 L1959.0,839.5"/>
<path d="M1941.7,896.8 L1948.4,892.8 L1949.7,887.5 L1950.4,882.1 L1950.8,876.8 L1951.7,871.5 L1957.0,866.2 L1959.7,861.5 L1962.4,856.8 L1969.0,853.5 L1973.0,854.5 L1977.0,854.9 L1981.9,857.1 L1986.3,860.2 L1990.3,858.8 L1994.9,859.9 L1999.6,860.2 L2002.7,863.5 L2006.3,866.2 L2011.6,871.5 L2015.4,874.4 L2019.6,876.8 L2023.0,880.7 L2026.3,884.8 L2031.0,888.0 L2035.6,891.5 L2038.2,896.8 L2039.6,900.8 L2043.6,905.4 L2044.9,902.8 L2048.8,904.0 L2052.9,904.1 L2056.9,906.2 L2060.9,908.1 L2064.6,910.7 L2067.5,914.1 L2070.1,917.5 L2072.8,920.7 L2074.4,926.0 L2075.5,931.4 L2076.8,938.0 L2076.1,943.4 L2074.8,948.7 L2074.6,953.4 L2074.2,958.0 L2074.1,962.0 L2073.6,966.0 L2072.8,970.0"/>
<path d="M2089.5,933.4 L2083.5,936.7 L2081.2,941.9 L2079.5,947.4 L2077.9,952.6 L2076.8,958.0 L2077.0,962.1 L2076.5,966.1 L2075.5,970.0"/>
<path d="M700.5,516.5 L697.4,521.5 L694.3,526.5 L691.1,530.4 L688.6,534.9 L685.5,538.9 L685.4,544.0 L684.3,548.9 L683.6,553.9 L683.5,558.9 L683.0,563.9 L680.7,569.0 L678.1,573.9 L677.7,578.9 L677.8,583.9 L676.8,588.8 L678.8,595.0 L677.0,599.5 L674.2,603.5 L672.9,608.3 L670.6,612.5 L668.1,618.7 L663.9,622.7 L659.4,626.2 L657.5,629.8 L655.0,633.0 L652.8,636.5 L650.6,639.9 L647.8,644.2 L645.6,648.7 L641.9,650.7 L645.6,653.2 L650.0,653.6 L654.4,653.2 L659.6,651.5 L664.3,648.7 L668.1,646.2 L671.8,643.7 L675.6,643.2 L676.6,648.5 L678.1,653.7 L681.8,658.1 L686.7,656.6 L691.8,656.1 L695.5,658.6 L696.2,663.7 L697.4,668.8 L699.3,673.6 L701.0,678.5 L701.9,683.6 L703.0,688.6 L704.1,694.3 L706.2,699.8"/>
</g>
<g stroke="#000" stroke-width="1.5" fill="none" stroke-linejoin="round" stroke-linecap="round">
<path d="M826.4,494.5 L831.3,497.4 L832.8,501.2 L834.7,504.8 L838.4,506.8 L841.3,509.8 L843.8,514.8 L843.7,519.0 L844.6,523.1 L846.9,527.0 L849.6,530.6 L851.3,535.6 L856.3,538.9 L863.8,539.8 L871.2,538.1"/>
<path d="M871.2,538.1 L877.0,537.0 L882.9,536.4 L886.6,533.5 L890.4,530.6 L896.2,531.4 L901.2,532.3 L906.2,532.3 L910.3,530.7 L914.5,529.8 L916.1,530.6 L920.3,528.2 L924.4,525.6 L926.9,522.3 L932.8,523.1 L939.4,519.8 L946.1,519.0 L950.4,517.7 L954.4,515.6 L956.9,517.3 L961.4,515.8 L966.0,514.8 L972.7,515.6 L977.6,514.6 L982.6,514.8 L983.5,519.0 L988.1,518.9 L992.6,517.8 L997.6,517.5 L1002.6,518.3 L1007.6,518.1 L1012.0,519.3 L1016.5,518.6 L1020.9,519.8 L1023.4,521.5 L1027.8,519.9 L1032.5,519.0 L1038.3,520.6 L1040.0,524.8 L1040.8,522.3 L1045.0,519.5 L1049.1,516.5 L1054.1,516.3 L1059.1,515.6 L1062.4,511.5 L1064.5,515.1 L1067.7,517.9 L1069.5,521.8 L1072.4,524.8 L1077.0,524.9 L1081.6,525.5 L1086.1,526.9 L1090.7,527.3 L1095.7,529.8"/>
<path d="M1062.4,511.5 L1062.6,516.5 L1061.4,521.5 L1061.6,526.5 L1065.8,526.3 L1069.9,526.3 L1074.1,527.2 L1078.2,526.6 L1082.4,527.2 L1086.5,527.2 L1090.7,527.3"/>
<path d="M871.2,538.1 L872.7,542.2 L873.7,546.4 L874.6,551.4 L880.4,553.9 L885.8,552.2 L891.2,550.6 L893.3,546.1 L894.5,541.4 L899.5,538.9 L904.5,539.8 L906.2,532.3"/>
<path d="M880.4,553.9 L879.6,559.7 L876.2,566.4 L872.2,568.8 L867.9,570.5 L862.9,575.5 L865.1,579.1 L867.2,582.8 L869.6,586.3 L874.8,588.4 L879.6,591.3 L882.0,596.3 L879.6,601.3 L884.5,606.7 L889.1,605.0 L893.3,602.5 L897.8,600.4 L902.5,599.0 L906.8,596.7 L911.1,594.6 L917.0,596.3 L919.5,601.3 L921.9,593.8 L925.2,596.3 L927.8,599.6 L934.4,601.3 L937.5,604.0 L940.2,607.1 L939.4,608.7 L932.8,609.6 L929.4,614.6 L931.1,621.2 L933.0,625.2 L934.4,629.5 L939.4,630.4 L939.4,622.9 L944.4,619.6 L949.4,619.1 L954.4,618.7 L956.0,621.2 L954.4,627.0 L950.2,631.2 L956.0,632.0 L962.7,629.5 L967.0,631.3 L971.0,633.7 L972.4,628.3 L973.5,622.9 L974.3,618.7 L978.7,617.1 L982.6,614.6 L987.5,612.6 L992.6,611.2 L995.9,606.2 L999.3,601.3 L1002.1,597.8 L1004.2,593.8 L1004.5,599.2 L1005.1,604.6 L1010.9,607.9 L1015.9,606.7 L1020.9,605.4 L1025.6,603.1 L1030.0,600.4"/>
<path d="M975.1,620.4 L982.6,619.6 L986.8,618.1 L990.9,616.2 L993.9,611.8 L997.6,607.9"/>
<path d="M880.4,553.9 L885.2,556.5 L889.5,559.7 L890.3,564.7 L891.2,569.7 L891.0,573.9 L891.2,578.0 L892.8,582.9 L893.7,588.0 L899.5,591.3 L903.8,590.1 L907.8,588.0 L912.8,593.8"/>
<path d="M846.3,615.4 L850.3,614.9 L854.3,615.2 L858.3,615.5 L862.3,615.2 L866.3,615.4 L868.8,611.7 L871.2,607.9 L874.6,601.3 L879.6,601.3"/>
<path d="M847.1,636.2 L853.0,637.8 L857.3,641.0 L861.3,644.5 L862.1,651.1 L866.3,657.8 L870.7,659.9 L874.6,662.8 L877.9,665.7 L880.4,669.4 L884.2,667.9 L887.9,666.1 L892.9,669.4 L891.3,673.2 L890.7,677.2 L889.5,681.1 L883.7,681.1"/>
<path d="M892.9,669.4 L897.1,666.7 L901.5,664.5 L906.2,662.8 L912.0,663.7 L917.8,663.6 L924.4,661.9 L928.2,660.3 L932.0,658.6 L936.1,657.8 L936.9,654.5 L932.8,649.5 L934.4,644.5 L931.1,641.2 L934.3,637.7 L937.7,634.5 L939.4,630.4"/>
<path d="M924.4,661.9 L926.1,668.6 L931.0,671.7 L936.1,674.4 L938.6,677.8 L941.1,681.1 L945.0,684.8 L949.4,687.7 L954.4,688.6 L959.4,689.4 L963.9,689.6 L968.2,690.9 L972.7,691.0 L977.4,694.0 L982.6,696.0"/>
<path d="M1040.0,524.8 L1037.3,528.3 L1034.2,531.4 L1030.0,531.9 L1025.9,533.1 L1024.2,538.0 L1023.4,543.1 L1027.5,546.4 L1028.5,552.2 L1028.3,558.0 L1020.9,559.7 L1016.9,562.3 L1013.4,565.7 L1009.2,568.0 L1010.8,572.2 L1012.6,576.3 L1014.0,580.6 L1015.9,584.6 L1018.1,589.3 L1020.9,593.8 L1020.9,588.4 L1021.7,583.0 L1027.0,580.8 L1032.5,578.8 L1037.5,576.7 L1042.1,577.3 L1046.6,578.8 L1044.1,584.6 L1039.2,589.6 L1033.3,588.0 L1033.2,583.4 L1032.5,578.8"/>
<path d="M1010.9,567.2 L1017.5,564.7"/>
<path d="M1030.0,600.4 L1030.8,595.8 L1031.7,591.3 L1037.1,592.1 L1042.5,593.0 L1046.6,591.9 L1050.8,591.3 L1054.1,584.6 L1059.1,583.0 L1065.8,584.6 L1071.6,589.6 L1075.7,586.3 L1082.4,582.1 L1085.4,578.8 L1089.0,576.3 L1093.0,574.3 L1097.3,573.0 L1100.0,573.0"/>
<path d="M1100.0,531.4 L1095.2,532.1 L1090.5,532.8 L1085.7,533.1 L1084.6,537.5 L1082.4,541.4 L1083.5,545.5 L1084.0,549.7 L1085.7,556.4 L1082.9,559.5 L1080.7,563.0 L1081.1,567.2 L1082.4,571.3 L1084.0,578.0 L1082.4,582.1"/>
<path d="M1030.0,600.4 L1031.3,605.0 L1032.5,609.6 L1035.0,614.6 L1037.5,619.6 L1038.6,625.4 L1039.2,631.2 L1042.8,633.3 L1045.8,636.2 L1049.1,642.8 L1053.4,645.0 L1057.4,647.8 L1062.4,648.6 L1057.7,652.0 L1052.5,654.5 L1055.3,658.7 L1057.5,663.4 L1059.9,667.8 L1060.7,663.0 L1060.7,658.1 L1061.2,653.3 L1062.4,648.6"/>
<path d="M1059.9,667.8 L1061.6,672.2 L1064.1,676.1 L1066.7,679.7 L1069.9,682.7 L1065.9,683.9 L1062.4,686.1 L1058.0,688.2 L1054.1,691.0 L1059.1,696.0"/>
<path d="M833.0,651.1 L837.2,652.6 L841.3,654.5 L848.0,657.8 L851.6,654.7 L856.1,652.7 L859.6,649.5"/>
<path d="M846.3,656.1 L849.7,652.9 L853.0,649.5 L852.9,644.9 L853.8,640.3"/>
<path d="M1097.3,573.0 L1095.7,578.0 L1100.0,584.6"/>
<path d="M1169.8,533.9 L1171.1,537.9 L1172.9,541.8 L1174.8,545.6 L1180.7,544.5 L1186.5,543.1 L1191.5,541.6 L1196.4,539.8 L1198.9,536.5 L1202.2,533.9 L1204.7,530.6 L1209.7,531.3 L1214.7,532.0 L1219.7,532.3 L1224.4,532.2 L1229.0,532.0 L1233.7,532.1 L1238.3,531.0 L1243.0,531.4 L1247.2,531.4 L1251.3,532.3 L1255.4,532.6 L1259.6,532.3 L1266.3,533.4 L1266.3,526.5"/>
<path d="M1196.4,539.8 L1192.3,543.1 L1197.7,544.2 L1203.1,545.6 L1208.9,544.8 L1214.7,543.9 L1217.2,538.7 L1218.9,533.1"/>
<path d="M1128.3,539.8 L1128.3,546.4 L1134.9,549.7 L1139.9,549.4 L1144.9,549.7 L1148.2,554.7 L1146.6,559.7 L1147.0,563.8 L1147.4,568.0 L1146.0,572.6 L1144.9,577.2 L1150.0,578.2 L1154.9,579.7 L1157.3,584.5 L1159.0,589.6"/>
<path d="M1186.5,543.1 L1188.5,548.1 L1190.6,553.1 L1194.2,555.2 L1197.3,558.0 L1196.5,562.3 L1194.8,566.4 L1197.5,569.5 L1199.8,573.0 L1203.9,573.5 L1208.1,573.8 L1214.7,578.0 L1220.5,579.2 L1226.4,579.7 L1232.3,580.6 L1238.0,582.1 L1243.8,582.2 L1249.6,581.3 L1253.0,577.2 L1259.6,577.2 L1263.9,579.0 L1267.9,581.3 L1272.4,582.0 L1276.8,583.3 L1281.2,584.6 L1285.4,584.2 L1289.5,585.0 L1293.7,584.9 L1297.8,585.5 L1302.0,585.0 L1306.1,584.7 L1310.3,585.1 L1314.5,584.6 L1319.5,583.0 L1324.5,581.5 L1329.4,579.7 L1333.1,576.7 L1336.7,573.6 L1340.9,571.2 L1344.4,568.0"/>
<path d="M1240.5,583.0 L1240.8,588.9 L1242.1,594.6 L1240.3,599.6 L1238.8,604.6 L1242.7,608.6 L1246.3,612.9 L1244.9,617.9 L1243.8,622.9 L1245.5,627.9 L1242.1,633.7 L1237.6,631.1 L1233.0,628.7 L1228.0,629.9 L1223.0,631.2 L1218.4,631.1 L1213.9,630.0 L1209.3,629.9 L1204.7,629.2 L1206.7,624.9 L1209.7,621.2 L1216.4,619.6 L1219.7,612.9 L1218.0,608.7 L1213.9,607.5 L1209.7,607.1 L1208.1,601.3 L1204.0,600.5 L1200.2,598.8 L1196.4,597.1 L1195.0,593.2 L1192.9,589.7 L1190.6,586.3 L1186.1,587.2 L1181.5,587.1 L1177.3,586.7 L1173.2,585.5 L1167.3,581.3 L1163.2,583.0 L1159.0,584.6 L1159.0,589.6 L1153.2,590.5 L1148.9,592.3 L1144.9,594.6 L1139.9,589.6 L1134.9,587.1 L1134.1,593.8 L1129.4,594.6 L1124.9,596.3 L1120.9,594.9 L1116.6,594.6 L1116.6,590.5 L1111.7,592.2 L1106.7,593.8 L1104.5,589.7 L1102.5,585.5 L1100.0,584.6"/>
<path d="M1134.1,593.8 L1136.1,597.4 L1138.4,600.8 L1139.9,604.6 L1135.7,609.6 L1131.6,611.3 L1127.6,613.5 L1123.3,614.6 L1120.0,620.4 L1122.9,623.9 L1124.9,627.9 L1124.9,634.5 L1122.4,639.5 L1124.1,644.5 L1129.1,649.5 L1129.8,654.5 L1130.8,659.5 L1128.7,664.7 L1125.8,669.4 L1122.2,672.9 L1118.3,676.1 L1117.8,680.7 L1116.7,685.1 L1115.0,689.4 L1116.6,696.0"/>
<path d="M1319.5,583.0 L1318.7,587.1 L1318.6,591.3 L1322.8,597.9 L1321.8,603.3 L1321.9,608.7 L1326.1,611.2 L1330.2,613.7 L1334.4,616.3 L1338.6,618.7 L1341.8,615.2 L1344.4,611.2 L1349.4,617.1 L1353.0,620.2 L1356.9,622.9 L1364.3,624.5 L1365.2,628.7 L1359.4,632.9 L1355.2,637.0 L1357.7,640.5 L1359.4,644.5 L1363.0,648.4 L1366.0,652.8 L1370.2,653.4 L1374.3,652.8 L1378.7,655.0 L1382.6,657.8 L1385.5,660.8 L1387.6,664.4 L1389.3,669.4 L1393.6,671.7 L1397.6,674.4 L1402.6,680.2 L1401.0,684.4 L1398.8,688.4 L1397.6,692.7 L1391.8,691.5 L1386.0,690.2 L1380.2,689.5 L1374.3,689.4 L1370.9,691.8 L1367.7,694.4 L1367.7,696.0"/>
<path d="M1425.9,557.2 L1428.0,560.9 L1430.7,564.2 L1432.5,568.0 L1437.4,570.8 L1442.5,573.0 L1446.7,572.4 L1450.8,571.3 L1455.8,570.5 L1460.8,570.3 L1465.8,569.7 L1469.9,570.6 L1474.1,571.3 L1479.1,571.3 L1484.1,570.7 L1489.0,569.7 L1492.4,563.0 L1500.0,561.4"/>
<path d="M1465.8,576.3 L1466.8,580.4 L1467.4,584.6 L1472.5,586.1 L1477.4,588.0 L1479.1,593.0 L1475.7,599.6 L1477.0,603.7 L1477.4,607.9 L1480.0,612.4 L1483.2,616.5 L1486.5,620.4 L1483.0,623.1 L1480.6,626.9 L1477.2,629.7 L1474.1,632.9 L1474.5,637.0 L1474.9,641.2 L1477.7,646.0 L1479.9,651.1 L1484.6,649.9 L1489.0,647.8 L1492.6,650.1 L1496.5,652.0 L1500.0,654.5"/>
<path d="M1300.3,553.1 L1304.1,555.0 L1307.8,557.2 L1314.5,559.7"/>
<path d="M1500.0,653.6 L1505.0,656.1 L1510.0,661.1 L1514.3,662.9 L1518.3,665.3 L1524.9,667.8 L1527.4,672.8 L1527.7,677.8 L1528.4,682.8 L1529.1,687.7 L1534.9,688.5 L1539.9,689.1 L1544.9,689.0 L1549.9,688.5 L1555.2,688.8 L1560.4,687.9 L1565.7,687.7 L1561.0,688.6 L1556.5,690.2 L1554.9,696.0"/>
<path d="M727.4,722.6 L729.0,718.6 L731.2,714.8 L733.3,711.0 L738.1,708.5 L743.2,706.8 L747.1,705.4 L751.1,704.3 L754.9,702.7 L759.3,700.0 L764.0,697.7 L766.5,696.0"/>
<path d="M735.7,708.5 L740.5,708.8 L745.2,709.4 L749.9,710.1 L754.9,709.7 L759.9,708.8 L764.8,707.6 L766.5,702.7 L764.0,697.7"/>
<path d="M766.5,702.7 L773.2,701.0 L779.8,703.5 L782.4,707.8 L784.0,712.6 L781.5,717.6 L781.0,721.7 L780.6,725.9 L778.5,729.5 L775.7,732.6 L773.2,735.9 L772.3,740.1 L778.1,741.7 L782.2,745.9 L786.5,750.0 L793.1,754.2 L798.9,750.9 L802.2,755.9 L807.2,760.0 L807.2,764.7 L806.2,769.4 L806.4,774.1 L808.6,778.1 L809.7,782.5 L808.1,789.1 L812.4,792.2 L816.4,795.8 L819.9,798.4 L823.9,799.9 L816.4,800.4 L811.5,798.5 L806.4,797.4 L802.2,797.3 L798.1,797.1 L793.9,796.7 L789.8,795.8 L783.9,795.7 L778.1,796.6 L774.8,799.9 L777.3,804.1 L773.2,807.4 L768.4,809.9 L763.2,811.5 L758.2,810.7 L753.2,807.4 L748.2,809.9"/>
<path d="M777.3,804.1 L784.8,802.4 L789.8,805.7 L796.4,805.7 L801.4,805.7 L806.4,804.9 L810.6,804.7 L814.7,804.1 L820.6,804.4 L826.4,805.7 L831.4,808.1 L836.3,810.7 L841.4,811.5 L846.3,813.2 L851.4,814.1 L856.3,815.7 L861.3,815.5 L866.3,814.9 L871.4,815.7 L876.2,817.4 L880.1,816.4 L883.8,814.6 L887.9,814.0 L894.5,810.7 L896.2,806.6 L901.1,804.9 L906.2,804.1 L908.1,800.0 L909.5,795.8 L912.8,790.8 L916.9,791.4 L921.1,791.6 L924.5,788.8 L927.8,785.8 L931.8,782.2 L936.1,779.1 L941.1,778.2 L946.1,777.5 L951.0,774.1 L955.2,773.2 L959.4,772.5 L966.0,769.2 L969.6,767.4 L972.4,764.3 L976.0,762.5 L979.5,759.8 L982.6,756.7 L986.8,753.5 L990.9,750.0 L995.0,751.0 L999.3,750.9 L1004.3,751.0 L1009.2,750.0 L1015.9,751.7 L1019.2,755.9 L1025.9,757.5 L1030.8,755.0 L1034.2,761.7 L1040.8,765.0 L1045.8,765.1 L1050.8,764.2 L1054.9,763.0 L1058.7,761.3 L1062.4,759.2 L1067.5,760.1 L1072.4,761.7 L1076.6,761.7 L1080.7,761.7 L1087.4,765.8 L1094.0,763.3 L1100.0,764.2"/>
<path d="M808.1,789.1 L810.9,786.0 L813.1,782.5 L811.4,775.0 L815.8,773.0 L819.7,770.0 L822.8,767.3 L826.7,765.4 L829.7,762.5 L833.8,760.1 L837.2,756.6 L841.3,754.2 L845.1,750.4 L848.0,745.9 L851.3,739.2 L848.8,732.6 L846.3,726.8 L845.5,722.6 L848.1,719.4 L851.3,716.8 L853.6,711.3 L856.3,706.0 L859.6,699.3 L866.3,696.0"/>
<path d="M872.1,696.0 L869.0,699.6 L866.3,703.5 L867.0,708.1 L867.9,712.6 L866.4,716.8 L864.6,720.9 L860.4,725.9 L859.6,730.9 L853.0,732.6 L848.8,732.6"/>
<path d="M981.0,696.0 L985.9,697.6 L990.9,698.5 L995.3,699.6 L999.8,699.3 L1004.2,700.2 L1009.2,706.0 L1010.8,710.4 L1013.4,714.3 L1019.2,717.6 L1017.5,725.1 L1024.2,729.3 L1027.2,732.5 L1030.8,735.1 L1035.8,740.9 L1040.7,743.8 L1045.0,747.5 L1042.5,748.4 L1039.2,743.4 L1035.0,742.9 L1030.8,743.4 L1026.5,742.2 L1022.5,740.1 L1019.0,736.5 L1015.9,732.6 L1009.2,728.4 L1005.9,721.8 L1002.7,719.2 L999.3,716.8 L998.4,711.8 L995.1,709.3 L999.4,706.0 L1004.2,703.5"/>
<path d="M1045.0,747.5 L1043.3,740.9 L1045.1,736.5 L1046.2,731.9 L1048.3,727.6 L1054.1,725.9 L1057.0,722.4 L1060.5,719.5 L1063.5,716.2 L1066.6,712.9 L1069.8,709.7 L1072.4,706.0 L1068.7,703.9 L1064.5,703.1 L1060.8,701.0 L1060.8,696.0"/>
<path d="M1060.8,701.0 L1065.3,701.9 L1069.9,702.4 L1074.5,703.0 L1079.1,703.5 L1083.3,702.7 L1087.5,703.4 L1091.7,703.5 L1095.8,702.9 L1100.0,702.7"/>
<path d="M1100.0,702.7 L1106.7,704.3 L1111.0,706.6 L1115.0,709.3 L1115.1,704.9 L1115.5,700.4 L1115.8,696.0"/>
<path d="M1115.8,696.0 L1115.6,700.2 L1115.7,704.3 L1116.8,708.4 L1116.6,712.6 L1120.4,716.9 L1123.3,721.8 L1126.5,724.4 L1129.9,726.8 L1132.1,730.3 L1134.9,733.4 L1139.8,735.4 L1144.9,736.7 L1148.2,743.4 L1151.8,745.6 L1154.9,748.4 L1155.7,754.2 L1153.2,758.3 L1148.8,759.9 L1144.9,762.5 L1139.1,763.0 L1133.3,764.2 L1127.4,764.8 L1121.6,764.2 L1116.6,765.4 L1111.6,766.7 L1105.0,764.2 L1100.0,764.2"/>
<path d="M1153.2,758.3 L1156.9,760.9 L1160.7,763.3 L1166.1,763.2 L1171.5,763.3 L1174.9,766.1 L1178.1,769.2 L1183.2,772.3 L1188.1,775.8 L1192.5,775.0 L1196.9,774.2 L1201.4,774.1 L1205.3,775.2 L1209.1,776.7 L1213.1,777.5 L1218.0,778.6 L1223.0,779.1 L1227.3,780.3 L1231.3,782.5 L1237.2,780.8 L1236.3,775.8 L1241.7,774.0 L1247.1,772.5 L1250.4,775.5 L1253.0,779.1 L1258.0,779.0 L1262.9,780.0 L1265.4,785.8"/>
<path d="M1324.4,763.3 L1328.6,763.5 L1332.8,763.3 L1337.6,766.1 L1342.7,768.3 L1349.4,766.7 L1354.3,768.0 L1359.4,768.3 L1364.4,768.7 L1369.3,770.0 L1374.3,774.1 L1381.0,775.8 L1384.7,780.4 L1389.3,784.1 L1395.1,786.6 L1399.6,784.9 L1404.2,783.3 L1408.3,780.2 L1412.6,777.5 L1419.2,775.8 L1424.2,777.5 L1429.2,772.5 L1425.9,769.9 L1422.5,767.5 L1420.0,762.5 L1421.7,758.8 L1423.4,755.0 L1427.8,753.4 L1432.5,752.5 L1434.2,755.9 L1439.2,753.4 L1443.2,751.3 L1446.6,748.4 L1450.0,751.0 L1453.5,753.2 L1457.4,755.0 L1461.8,756.4 L1465.7,758.9 L1469.9,760.8 L1473.6,759.0 L1477.1,757.0 L1480.7,755.0 L1483.4,751.7 L1485.4,748.0 L1487.4,744.2 L1491.6,744.5 L1495.8,743.9 L1500.0,743.4"/>
<path d="M1349.4,766.7 L1344.3,764.9 L1339.4,762.5 L1339.2,757.5 L1339.4,752.5 L1343.1,749.5 L1346.1,745.9 L1349.4,739.2 L1352.5,735.6 L1356.4,732.9 L1359.4,729.3 L1364.3,723.4 L1366.0,718.8 L1367.7,714.3 L1369.1,709.3 L1370.2,704.3 L1368.7,700.2 L1367.7,696.0"/>
<path d="M1167.3,914.6 L1169.8,919.6 L1176.5,917.9 L1183.1,922.1 L1189.8,920.4 L1193.9,927.1 L1193.3,931.2 L1193.1,935.4 L1190.9,939.8 L1188.1,943.7 L1187.2,947.8 L1186.5,952.0"/>
<path d="M1331.9,918.8 L1326.5,919.8 L1321.1,920.4 L1315.3,921.5 L1309.5,922.1 L1307.0,927.1 L1307.0,932.1 L1306.2,937.1 L1302.0,937.1 L1297.8,943.7 L1293.7,948.7 L1291.2,952.0"/>
<path d="M1331.9,918.8 L1331.2,923.3 L1330.4,927.7 L1329.4,932.1 L1329.8,936.5 L1329.2,941.0 L1329.4,945.4 L1332.8,952.0"/>
<path d="M1586.5,720.9 L1581.5,722.6 L1578.4,725.4 L1574.8,727.6 L1569.8,730.9 L1565.5,729.2 L1561.5,726.8 L1557.1,727.3 L1552.6,727.0 L1548.2,726.8 L1543.2,727.9 L1538.2,729.3 L1535.1,732.1 L1531.6,734.2 L1526.8,737.5 L1521.6,740.1 L1515.9,741.8 L1510.0,742.6 L1505.1,743.9 L1500.0,744.2"/>
<path d="M1594.8,716.8 L1598.4,718.8 L1602.5,720.0 L1606.4,721.3 L1609.9,723.6 L1613.9,724.9 L1618.0,725.7 L1621.6,727.9 L1625.5,729.3 L1673.7,716.8"/>
<path d="M1165.8,915.5 L1170.1,918.1 L1174.6,920.4 L1179.5,920.7 L1184.5,920.4 L1188.1,922.7 L1192.0,924.2 L1192.1,929.9 L1193.3,935.4 L1189.5,941.6 L1187.7,945.4 L1185.8,949.1 L1187.0,955.4 L1192.0,954.9 L1197.0,954.1 L1200.0,957.1 L1203.1,959.9 L1205.7,963.3 L1209.6,962.4 L1213.3,960.6 L1217.0,959.1 L1221.9,957.8 L1227.0,958.0 L1231.9,956.6 L1236.3,955.2 L1240.8,954.0 L1245.2,952.4 L1249.4,950.4 L1254.4,950.4 L1259.4,950.9 L1264.3,947.9 L1268.0,949.8 L1271.8,951.6 L1276.3,953.4 L1281.1,954.1 L1285.9,954.9 L1290.5,956.6 L1292.1,952.4 L1293.0,947.9 L1296.0,945.0 L1298.8,942.1 L1301.7,939.1 L1306.7,935.4 L1307.5,931.3 L1307.1,927.0 L1308.0,922.9 L1313.7,921.9 L1319.2,920.4 L1323.3,919.4 L1327.6,919.1 L1331.7,918.0"/>
<path d="M1331.7,918.0 L1330.3,922.0 L1329.8,926.2 L1329.2,930.4 L1328.9,935.4 L1329.4,940.4 L1329.2,945.4 L1331.4,949.5 L1332.8,954.0 L1335.4,957.9 L1339.7,956.9 L1344.1,956.6 L1349.1,954.0 L1354.1,951.6 L1361.6,951.6 L1361.4,956.2 L1363.0,960.7 L1362.8,965.3 L1365.8,968.7 L1367.8,972.8 L1368.8,977.8 L1369.1,982.8 L1372.8,984.0 L1369.4,986.6 L1365.7,988.6 L1362.8,991.9 L1359.1,994.0 L1359.9,998.5 L1361.6,1002.7 L1365.3,1007.7 L1366.9,1012.8 L1369.1,1017.7 L1372.8,1022.7 L1374.0,1027.6 L1374.1,1032.7 L1377.0,1035.7 L1379.4,1039.0 L1381.5,1042.6 L1386.6,1044.9 L1391.5,1047.6 L1392.8,1053.9 L1397.2,1054.0 L1401.5,1055.1 L1406.2,1051.5 L1411.5,1048.9 L1417.1,1047.6 L1422.7,1046.4 L1421.8,1050.7 L1421.4,1055.1 L1418.5,1059.2 L1416.0,1063.7 L1412.7,1067.6 L1412.7,1071.8 L1413.0,1075.9 L1414.0,1080.0 L1412.7,1083.8"/>
</g>
<rect x="820.2" y="351.7" width="20" height="28" fill="#fff"/>
<ellipse cx="830.2" cy="366.0" rx="6.3" ry="9.6" fill="none" stroke="#000" stroke-width="1.5"/>
<rect x="1649.0" y="285.0" width="20" height="28" fill="#fff"/>
<ellipse cx="1659.0" cy="299.3" rx="6.3" ry="9.6" fill="none" stroke="#000" stroke-width="1.5"/>
<rect x="1317.0" y="563.0" width="20" height="28" fill="#fff"/>
<ellipse cx="1327.0" cy="577.3" rx="6.3" ry="9.6" fill="none" stroke="#000" stroke-width="1.5"/>
<rect x="2035.0" y="545.0" width="20" height="28" fill="#fff"/>
<ellipse cx="2045.0" cy="559.3" rx="6.3" ry="9.6" fill="none" stroke="#000" stroke-width="1.5"/>
<rect x="1428.0" y="1015.0" width="20" height="28" fill="#fff"/>
<ellipse cx="1438.0" cy="1029.3" rx="6.3" ry="9.6" fill="none" stroke="#000" stroke-width="1.5"/>
<rect x="489.0" y="1400.0" width="20" height="28" fill="#fff"/>
<ellipse cx="499.0" cy="1414.3" rx="6.3" ry="9.6" fill="none" stroke="#000" stroke-width="1.5"/>
<rect x="1141.0" y="1325.0" width="41" height="28" fill="#fff"/>
<g filter="url(#f)"><text x="1143.8" y="1349.3" font-size="29" textLength="35.5" lengthAdjust="spacingAndGlyphs" fill="#000" stroke="#fff" stroke-width="0.8">30</text></g>
<rect x="1804.0" y="1065.0" width="41" height="29" fill="#fff"/>
<g filter="url(#f)"><text x="1806.8" y="1089.8" font-size="29" textLength="35.5" lengthAdjust="spacingAndGlyphs" fill="#000" stroke="#fff" stroke-width="0.8">60</text></g>
<rect x="1804.0" y="1197.0" width="41" height="29" fill="#fff"/>
<g filter="url(#f)"><text x="1806.8" y="1221.8" font-size="29" textLength="35.5" lengthAdjust="spacingAndGlyphs" fill="#000" stroke="#fff" stroke-width="0.8">90</text></g>
</g>
<path d="M1502.5,79.5 q2.5,3 0.8,7.5 q-1,5 0.6,8.5 q2.4,-4 1,-8.5 q-0.8,-4.5 -2.4,-7.5z" stroke="#000" fill="none" stroke-width="1"/>
<rect x="410.3" y="141.2" width="1679.5000000000002" height="1317.3" fill="none" stroke="#000" stroke-width="2.1"/>
<g stroke="#000" stroke-width="1.7" fill="none">
<path d="M400.8,141.2 H410.3"/>
<path d="M400.8,229.0 H410.3"/>
<path d="M400.8,316.8 H410.3"/>
<path d="M400.8,404.7 H410.3"/>
<path d="M400.8,492.5 H410.3"/>
<path d="M400.8,580.3 H410.3"/>
<path d="M400.8,668.1 H410.3"/>
<path d="M400.8,755.9 H410.3"/>
<path d="M400.8,843.8 H410.3"/>
<path d="M400.8,931.6 H410.3"/>
<path d="M400.8,1019.4 H410.3"/>
<path d="M400.8,1107.2 H410.3"/>
<path d="M400.8,1195.0 H410.3"/>
<path d="M400.8,1282.9 H410.3"/>
<path d="M400.8,1370.7 H410.3"/>
<path d="M400.8,1458.5 H410.3"/>
<path d="M410.3,1458.5 V1468.0"/>
<path d="M587.1,1458.5 V1468.0"/>
<path d="M763.9,1458.5 V1468.0"/>
<path d="M940.7,1458.5 V1468.0"/>
<path d="M1117.5,1458.5 V1468.0"/>
<path d="M1294.2,1458.5 V1468.0"/>
<path d="M1471.0,1458.5 V1468.0"/>
<path d="M1647.8,1458.5 V1468.0"/>
<path d="M1824.6,1458.5 V1468.0"/>
<path d="M2001.4,1458.5 V1468.0"/>
</g>
<g filter="url(#f)"><text transform="translate(333.2,151.9) scale(0.983,1)" font-size="29.2" letter-spacing="0.80" fill="#000" stroke="#fff" stroke-width="0.7">15N</text></g>
<g filter="url(#f)"><text transform="translate(333.2,239.7) scale(0.983,1)" font-size="29.2" letter-spacing="0.80" fill="#000" stroke="#fff" stroke-width="0.7">14N</text></g>
<g filter="url(#f)"><text transform="translate(333.2,327.5) scale(0.983,1)" font-size="29.2" letter-spacing="0.80" fill="#000" stroke="#fff" stroke-width="0.7">13N</text></g>
<g filter="url(#f)"><text transform="translate(333.2,415.4) scale(0.983,1)" font-size="29.2" letter-spacing="0.80" fill="#000" stroke="#fff" stroke-width="0.7">12N</text></g>
<g filter="url(#f)"><text transform="translate(333.2,503.2) scale(1.000,1)" font-size="29.2" letter-spacing="1.45" fill="#000" stroke="#fff" stroke-width="0.7">11N</text></g>
<g filter="url(#f)"><text transform="translate(333.2,591.0) scale(0.983,1)" font-size="29.2" letter-spacing="0.80" fill="#000" stroke="#fff" stroke-width="0.7">10N</text></g>
<g filter="url(#f)"><text transform="translate(350.8,678.8) scale(0.963,1)" font-size="29.2" letter-spacing="0.80" fill="#000" stroke="#fff" stroke-width="0.7">9N</text></g>
<g filter="url(#f)"><text transform="translate(350.8,766.6) scale(0.963,1)" font-size="29.2" letter-spacing="0.80" fill="#000" stroke="#fff" stroke-width="0.7">8N</text></g>
<g filter="url(#f)"><text transform="translate(350.8,854.5) scale(0.963,1)" font-size="29.2" letter-spacing="0.80" fill="#000" stroke="#fff" stroke-width="0.7">7N</text></g>
<g filter="url(#f)"><text transform="translate(350.8,942.3) scale(0.963,1)" font-size="29.2" letter-spacing="0.80" fill="#000" stroke="#fff" stroke-width="0.7">6N</text></g>
<g filter="url(#f)"><text transform="translate(350.8,1030.1) scale(0.963,1)" font-size="29.2" letter-spacing="0.80" fill="#000" stroke="#fff" stroke-width="0.7">5N</text></g>
<g filter="url(#f)"><text transform="translate(350.8,1117.9) scale(0.963,1)" font-size="29.2" letter-spacing="0.80" fill="#000" stroke="#fff" stroke-width="0.7">4N</text></g>
<g filter="url(#f)"><text transform="translate(350.8,1205.7) scale(0.963,1)" font-size="29.2" letter-spacing="0.80" fill="#000" stroke="#fff" stroke-width="0.7">3N</text></g>
<g filter="url(#f)"><text transform="translate(350.8,1293.6) scale(0.963,1)" font-size="29.2" letter-spacing="0.80" fill="#000" stroke="#fff" stroke-width="0.7">2N</text></g>
<g filter="url(#f)"><text transform="translate(353.5,1381.4) scale(0.890,1)" font-size="29.2" letter-spacing="0.80" fill="#000" stroke="#fff" stroke-width="0.7">1N</text></g>
<g filter="url(#f)"><text transform="translate(351.5,1469.2) scale(0.862,1)" font-size="29.2" letter-spacing="0.80" fill="#000" stroke="#fff" stroke-width="0.7">EQ</text></g>
<g filter="url(#f)"><text transform="translate(380.6,1494.4) scale(0.959,1)" font-size="29.2" letter-spacing="0.80" fill="#000" stroke="#fff" stroke-width="0.7">76W</text></g>
<g filter="url(#f)"><text transform="translate(557.4,1494.4) scale(0.959,1)" font-size="29.2" letter-spacing="0.80" fill="#000" stroke="#fff" stroke-width="0.7">74W</text></g>
<g filter="url(#f)"><text transform="translate(734.2,1494.4) scale(0.959,1)" font-size="29.2" letter-spacing="0.80" fill="#000" stroke="#fff" stroke-width="0.7">72W</text></g>
<g filter="url(#f)"><text transform="translate(911.0,1494.4) scale(0.959,1)" font-size="29.2" letter-spacing="0.80" fill="#000" stroke="#fff" stroke-width="0.7">70W</text></g>
<g filter="url(#f)"><text transform="translate(1087.8,1494.4) scale(0.959,1)" font-size="29.2" letter-spacing="0.80" fill="#000" stroke="#fff" stroke-width="0.7">68W</text></g>
<g filter="url(#f)"><text transform="translate(1264.6,1494.4) scale(0.959,1)" font-size="29.2" letter-spacing="0.80" fill="#000" stroke="#fff" stroke-width="0.7">66W</text></g>
<g filter="url(#f)"><text transform="translate(1441.4,1494.4) scale(0.959,1)" font-size="29.2" letter-spacing="0.80" fill="#000" stroke="#fff" stroke-width="0.7">64W</text></g>
<g filter="url(#f)"><text transform="translate(1618.2,1494.4) scale(0.959,1)" font-size="29.2" letter-spacing="0.80" fill="#000" stroke="#fff" stroke-width="0.7">62W</text></g>
<g filter="url(#f)"><text transform="translate(1795.0,1494.4) scale(0.959,1)" font-size="29.2" letter-spacing="0.80" fill="#000" stroke="#fff" stroke-width="0.7">60W</text></g>
<g filter="url(#f)"><text transform="translate(1971.8,1494.4) scale(0.959,1)" font-size="29.2" letter-spacing="0.80" fill="#000" stroke="#fff" stroke-width="0.7">58W</text></g>
<g filter="url(#f)"><text transform="translate(228.3,33.8) scale(1.180,1)" font-size="42.5" letter-spacing="3.15" fill="#000" stroke="#fff" stroke-width="1.5">Anomalia</text></g>
<g filter="url(#f)"><text transform="translate(500.9,33.8) scale(1.157,1)" font-size="42.5" letter-spacing="0.80" fill="#000" stroke="#fff" stroke-width="1.5">de</text></g>
<g filter="url(#f)"><text transform="translate(594.6,33.8) scale(1.180,1)" font-size="42.5" letter-spacing="3.21" fill="#000" stroke="#fff" stroke-width="1.5">Precipitacion</text></g>
<g filter="url(#f)"><text transform="translate(965.7,33.8) scale(1.180,1)" font-size="42.5" letter-spacing="3.24" fill="#000" stroke="#fff" stroke-width="1.5">Semana</text></g>
<g filter="url(#f)"><text transform="translate(1219.9,33.8) scale(1.340,1)" font-size="42.5" letter-spacing="3.68" fill="#000" stroke="#fff" stroke-width="1.5">14/03/2022</text></g>
<g filter="url(#f)"><text transform="translate(1588.9,33.8) scale(1.106,1)" font-size="42.5" letter-spacing="0.80" fill="#000" stroke="#fff" stroke-width="1.5">al</text></g>
<g filter="url(#f)"><text transform="translate(1663.6,33.8) scale(1.340,1)" font-size="42.5" letter-spacing="4.68" fill="#000" stroke="#fff" stroke-width="1.5">20/03/2022</text></g>
<g filter="url(#f)"><text transform="translate(2043.1,33.8) scale(1.180,1)" font-size="42.5" letter-spacing="7.53" fill="#000" stroke="#fff" stroke-width="1.5">(mm</text></g>
<g filter="url(#f)"><text transform="translate(2201.0,33.8) scale(1.142,1)" font-size="42.5" letter-spacing="0.80" fill="#000" stroke="#fff" stroke-width="1.5">de</text></g>
<g filter="url(#f)"><text transform="translate(2294.1,33.8) scale(1.180,1)" font-size="42.5" letter-spacing="2.50" fill="#000" stroke="#fff" stroke-width="1.5">lluvia)</text></g>
<g filter="url(#f)"><text transform="translate(683.1,86.0) scale(1.130,1)" font-size="28" letter-spacing="0.80" fill="#f5148c" stroke="#fff" stroke-width="0.8">VENEZUELA</text></g>
<g filter="url(#f)"><text transform="translate(953.0,86.0) scale(1.077,1)" font-size="28" letter-spacing="0.80" fill="#f5148c" stroke="#fff" stroke-width="0.8">UCV</text></g>
<g filter="url(#f)"><text transform="translate(1091.8,86.0) scale(1.150,1)" font-size="28" letter-spacing="3.30" fill="#f5148c" stroke="#fff" stroke-width="0.8">Departamento</text></g>
<g filter="url(#f)"><text transform="translate(1362.3,86.0) scale(1.150,1)" font-size="28" letter-spacing="1.38" fill="#f5148c" stroke="#fff" stroke-width="0.8">de</text></g>
<g filter="url(#f)"><text transform="translate(1424.8,86.0) scale(1.150,1)" font-size="28" letter-spacing="2.12" fill="#f5148c" stroke="#fff" stroke-width="0.8">Ingenieria</text></g>
<g filter="url(#f)"><text transform="translate(1614.2,86.0) scale(1.150,1)" font-size="28" letter-spacing="2.99" fill="#f5148c" stroke="#fff" stroke-width="0.8">Hidrometeorologica</text></g>
<g filter="url(#f)"><text transform="translate(662.2,123.3) scale(1.150,1)" font-size="28" letter-spacing="2.35" fill="#f5148c" stroke="#fff" stroke-width="0.8">Ingenieros</text></g>
<g filter="url(#f)"><text transform="translate(860.9,123.3) scale(1.150,1)" font-size="28" letter-spacing="2.46" fill="#f5148c" stroke="#fff" stroke-width="0.8">Rafael</text></g>
<g filter="url(#f)"><text transform="translate(992.7,123.3) scale(1.150,1)" font-size="28" letter-spacing="2.56" fill="#f5148c" stroke="#fff" stroke-width="0.8">Mundaray</text></g>
<g filter="url(#f)"><text transform="translate(1178.8,123.3) scale(1.150,1)" font-size="28" letter-spacing="0.00" fill="#f5148c" stroke="#fff" stroke-width="0.8">y</text></g>
<g filter="url(#f)"><text transform="translate(1218.1,123.3) scale(1.150,1)" font-size="28" letter-spacing="2.43" fill="#f5148c" stroke="#fff" stroke-width="0.8">Alfredo</text></g>
<g filter="url(#f)"><text transform="translate(1362.3,123.3) scale(1.027,1)" font-size="28" letter-spacing="0.80" fill="#f5148c" stroke="#fff" stroke-width="0.8">Gil</text></g>
<g filter="url(#f)"><text transform="translate(1474.6,123.3) scale(1.150,1)" font-size="28" letter-spacing="2.50" fill="#f5148c" stroke="#fff" stroke-width="0.8">Datos</text></g>
<g filter="url(#f)"><text transform="translate(1595.9,123.3) scale(1.150,1)" font-size="28" letter-spacing="1.76" fill="#f5148c" stroke="#fff" stroke-width="0.8">Modelo</text></g>
<g filter="url(#f)"><text transform="translate(1736.7,123.3) scale(1.150,1)" font-size="28" letter-spacing="0.93" fill="#f5148c" stroke="#fff" stroke-width="0.8">CFSv2</text></g>
<g filter="url(#f)"><text transform="translate(1865.7,123.3) scale(1.066,1)" font-size="28" letter-spacing="0.80" fill="#f5148c" stroke="#fff" stroke-width="0.8">NOAA</text></g>
<g stroke="#f5148c" stroke-width="1.9"><path d="M904.6,77.1H924.5"/><path d="M1044.7,77.1H1064.7"/><path d="M1426,114.4H1446.9"/></g>
<g filter="url(#f)"><text transform="translate(13.9,1591.2) scale(1.040,1)" font-size="26.6" letter-spacing="0.80" fill="#000" stroke="#fff" stroke-width="0.8">GrADS</text></g>
<g filter="url(#f)"><text transform="translate(131.7,1591.2) scale(1.030,1)" font-size="26.6" letter-spacing="0.80" fill="#000" stroke="#fff" stroke-width="0.8">COLA</text></g>
<path d="M109,1596.5L126.6,1568.6" stroke="#000" stroke-width="1.6"/>
<g stroke="#000" stroke-width="1.15" stroke-linejoin="miter">
<path d="M2271.7,251.8 L2295.0,159 L2318.3,251.8Z" fill="#0000ff"/>
<rect x="2271.7" y="251.8" width="46.6" height="91.5" fill="#0064ff"/>
<rect x="2271.7" y="343.3" width="46.6" height="91.5" fill="#0078ff"/>
<rect x="2271.7" y="434.7" width="46.6" height="91.5" fill="#008cff"/>
<rect x="2271.7" y="526.2" width="46.6" height="91.5" fill="#00a0ff"/>
<rect x="2271.7" y="617.6" width="46.6" height="91.5" fill="#1eb2ff"/>
<rect x="2271.7" y="709.1" width="46.6" height="91.5" fill="#50c3ff"/>
<rect x="2271.7" y="800.5" width="46.6" height="91.5" fill="#ffffff"/>
<rect x="2271.7" y="892.0" width="46.6" height="91.5" fill="#ffff96"/>
<rect x="2271.7" y="983.5" width="46.6" height="91.5" fill="#fdc652"/>
<rect x="2271.7" y="1074.9" width="46.6" height="91.5" fill="#fdb020"/>
<rect x="2271.7" y="1166.4" width="46.6" height="91.5" fill="#ffa000"/>
<rect x="2271.7" y="1257.8" width="46.6" height="91.5" fill="#ff8c00"/>
<path d="M2271.7,1349.3 L2295.0,1440.7 L2318.3,1349.3Z" fill="#ff7800"/>
</g>
<g filter="url(#f)"><text transform="translate(2335.4,264.6) scale(1.150,1)" font-size="36.3" letter-spacing="0.99" fill="#000" stroke="#fff" stroke-width="1.0">100</text></g>
<g filter="url(#f)"><text transform="translate(2331.1,356.0) scale(1.150,1)" font-size="36.3" letter-spacing="2.40" fill="#000" stroke="#fff" stroke-width="1.0">80</text></g>
<g filter="url(#f)"><text transform="translate(2331.1,447.5) scale(1.150,1)" font-size="36.3" letter-spacing="2.40" fill="#000" stroke="#fff" stroke-width="1.0">60</text></g>
<g filter="url(#f)"><text transform="translate(2331.1,538.9) scale(1.150,1)" font-size="36.3" letter-spacing="2.40" fill="#000" stroke="#fff" stroke-width="1.0">40</text></g>
<g filter="url(#f)"><text transform="translate(2331.1,630.4) scale(1.150,1)" font-size="36.3" letter-spacing="2.40" fill="#000" stroke="#fff" stroke-width="1.0">20</text></g>
<g filter="url(#f)"><text transform="translate(2339.4,721.8) scale(0.993,1)" font-size="36.3" letter-spacing="0.80" fill="#000" stroke="#fff" stroke-width="1.0">10</text></g>
<g filter="url(#f)"><text transform="translate(2331.1,813.3) scale(1.109,1)" font-size="36.3" letter-spacing="0.00" fill="#000" stroke="#fff" stroke-width="1.0">0</text></g>
<path d="M2334,893.0H2359" stroke="#000" stroke-width="1.7"/>
<g filter="url(#f)"><text transform="translate(2371.4,904.8) scale(1.085,1)" font-size="36.3" letter-spacing="0.80" fill="#000" stroke="#fff" stroke-width="1.0">10</text></g>
<path d="M2334,984.5H2359" stroke="#000" stroke-width="1.7"/>
<g filter="url(#f)"><text transform="translate(2367.3,996.2) scale(1.150,1)" font-size="36.3" letter-spacing="2.05" fill="#000" stroke="#fff" stroke-width="1.0">20</text></g>
<path d="M2334,1075.9H2359" stroke="#000" stroke-width="1.7"/>
<g filter="url(#f)"><text transform="translate(2367.3,1087.7) scale(1.150,1)" font-size="36.3" letter-spacing="2.05" fill="#000" stroke="#fff" stroke-width="1.0">40</text></g>
<path d="M2334,1167.4H2359" stroke="#000" stroke-width="1.7"/>
<g filter="url(#f)"><text transform="translate(2367.3,1179.1) scale(1.150,1)" font-size="36.3" letter-spacing="2.05" fill="#000" stroke="#fff" stroke-width="1.0">60</text></g>
<path d="M2334,1258.8H2359" stroke="#000" stroke-width="1.7"/>
<g filter="url(#f)"><text transform="translate(2367.3,1270.6) scale(1.150,1)" font-size="36.3" letter-spacing="2.05" fill="#000" stroke="#fff" stroke-width="1.0">80</text></g>
<path d="M2334,1350.3H2359" stroke="#000" stroke-width="1.7"/>
<g filter="url(#f)"><text transform="translate(2371.4,1362.0) scale(1.150,1)" font-size="36.3" letter-spacing="1.08" fill="#000" stroke="#fff" stroke-width="1.0">100</text></g>
</svg></body></html>
